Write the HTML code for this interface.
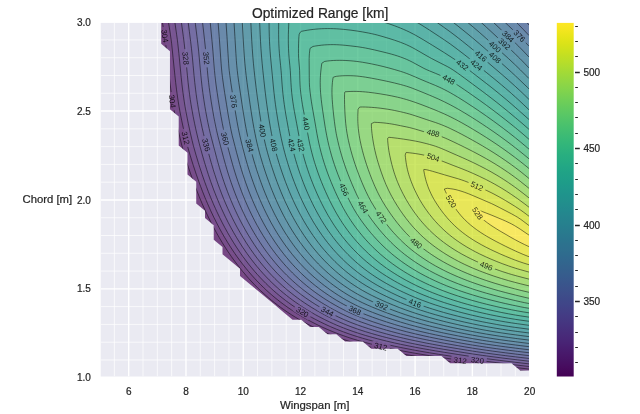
<!DOCTYPE html>
<html><head><meta charset="utf-8"><title>Optimized Range [km]</title>
<style>html,body{margin:0;padding:0;background:#fff}svg{display:block}text{font-family:"Liberation Sans",sans-serif;fill:#262626;stroke:#262626;stroke-width:0.22px}.cl text{stroke:none}</style></head>
<body>
<svg width="640" height="414" viewBox="0 0 640 414">
<rect width="640" height="414" fill="#ffffff"/>
<rect x="100.7" y="22.9" width="428.40" height="353.60" fill="#eaeaf2"/>
<defs><clipPath id="ax"><rect x="100.7" y="22.9" width="428.40" height="353.60"/></clipPath>
<clipPath id="bd" clip-path="url(#ax)"><path d="M161.20 0.00L161.20 43.87L169.96 51.13L169.96 109.18L178.71 116.44L178.71 145.47L187.47 152.73L187.47 174.50L196.23 181.75L196.23 203.52L204.98 210.78L204.98 218.04L213.74 225.30L213.74 239.81L222.50 247.07L222.50 254.32L231.25 261.58L240.01 268.84L240.01 276.09L248.77 283.35L257.53 290.61L266.28 297.87L275.04 305.12L283.80 312.38L292.55 319.64L301.31 319.64L310.07 326.89L318.82 326.89L327.58 334.15L336.34 334.15L345.10 341.41L362.61 341.41L371.37 348.67L397.64 348.67L406.39 355.92L441.42 355.92L450.18 363.18L511.48 363.18L520.24 370.44L640.00 370.44L640.00 0.00Z"/></clipPath>
<linearGradient id="cb" x1="0" y1="0" x2="0" y2="1"><stop offset="0.0000" stop-color="#fde725"/><stop offset="0.0156" stop-color="#f6e620"/><stop offset="0.0312" stop-color="#ece51b"/><stop offset="0.0469" stop-color="#e2e418"/><stop offset="0.0625" stop-color="#d8e219"/><stop offset="0.0781" stop-color="#cde11d"/><stop offset="0.0938" stop-color="#c2df23"/><stop offset="0.1094" stop-color="#b8de29"/><stop offset="0.1250" stop-color="#addc30"/><stop offset="0.1406" stop-color="#a2da37"/><stop offset="0.1562" stop-color="#98d83e"/><stop offset="0.1719" stop-color="#8ed645"/><stop offset="0.1875" stop-color="#84d44b"/><stop offset="0.2031" stop-color="#7ad151"/><stop offset="0.2188" stop-color="#70cf57"/><stop offset="0.2344" stop-color="#67cc5c"/><stop offset="0.2500" stop-color="#5ec962"/><stop offset="0.2656" stop-color="#56c667"/><stop offset="0.2812" stop-color="#4ec36b"/><stop offset="0.2969" stop-color="#46c06f"/><stop offset="0.3125" stop-color="#3fbc73"/><stop offset="0.3281" stop-color="#38b977"/><stop offset="0.3438" stop-color="#32b67a"/><stop offset="0.3594" stop-color="#2db27d"/><stop offset="0.3750" stop-color="#28ae80"/><stop offset="0.3906" stop-color="#25ab82"/><stop offset="0.4062" stop-color="#22a785"/><stop offset="0.4219" stop-color="#20a386"/><stop offset="0.4375" stop-color="#1fa088"/><stop offset="0.4531" stop-color="#1e9c89"/><stop offset="0.4688" stop-color="#1f988b"/><stop offset="0.4844" stop-color="#1f948c"/><stop offset="0.5000" stop-color="#21918c"/><stop offset="0.5156" stop-color="#228d8d"/><stop offset="0.5312" stop-color="#23898e"/><stop offset="0.5469" stop-color="#25858e"/><stop offset="0.5625" stop-color="#26828e"/><stop offset="0.5781" stop-color="#277e8e"/><stop offset="0.5938" stop-color="#297a8e"/><stop offset="0.6094" stop-color="#2a768e"/><stop offset="0.6250" stop-color="#2c728e"/><stop offset="0.6406" stop-color="#2e6f8e"/><stop offset="0.6562" stop-color="#2f6b8e"/><stop offset="0.6719" stop-color="#31678e"/><stop offset="0.6875" stop-color="#33638d"/><stop offset="0.7031" stop-color="#355f8d"/><stop offset="0.7188" stop-color="#375b8d"/><stop offset="0.7344" stop-color="#39568c"/><stop offset="0.7500" stop-color="#3b528b"/><stop offset="0.7656" stop-color="#3d4e8a"/><stop offset="0.7812" stop-color="#3e4989"/><stop offset="0.7969" stop-color="#404588"/><stop offset="0.8125" stop-color="#424086"/><stop offset="0.8281" stop-color="#443b84"/><stop offset="0.8438" stop-color="#453781"/><stop offset="0.8594" stop-color="#46327e"/><stop offset="0.8750" stop-color="#472d7b"/><stop offset="0.8906" stop-color="#482878"/><stop offset="0.9062" stop-color="#482374"/><stop offset="0.9219" stop-color="#481d6f"/><stop offset="0.9375" stop-color="#48186a"/><stop offset="0.9531" stop-color="#471365"/><stop offset="0.9688" stop-color="#470d60"/><stop offset="0.9844" stop-color="#46075a"/><stop offset="1.0000" stop-color="#440154"/></linearGradient>
<mask id="lm" maskUnits="userSpaceOnUse" x="0" y="0" width="640" height="414"><rect width="640" height="414" fill="#fff"/><rect x="-9.18" y="-4" width="18.35" height="8" fill="#000" transform="translate(165.00 36.00) rotate(81.6)"/><rect x="-9.18" y="-4" width="18.35" height="8" fill="#000" transform="translate(172.50 101.30) rotate(80.9)"/><rect x="-9.18" y="-4" width="18.35" height="8" fill="#000" transform="translate(185.70 137.90) rotate(76.8)"/><rect x="-9.18" y="-4" width="18.35" height="8" fill="#000" transform="translate(380.80 346.40) rotate(12.9)"/><rect x="-9.18" y="-4" width="18.35" height="8" fill="#000" transform="translate(460.20 360.30) rotate(8.4)"/><rect x="-9.18" y="-4" width="18.35" height="8" fill="#000" transform="translate(302.50 312.00) rotate(31.4)"/><rect x="-9.18" y="-4" width="18.35" height="8" fill="#000" transform="translate(477.40 360.10) rotate(8.0)"/><rect x="-9.18" y="-4" width="18.35" height="8" fill="#000" transform="translate(185.80 58.20) rotate(84.4)"/><rect x="-9.18" y="-4" width="18.35" height="8" fill="#000" transform="translate(206.40 144.80) rotate(75.1)"/><rect x="-9.18" y="-4" width="18.35" height="8" fill="#000" transform="translate(327.40 311.40) rotate(28.5)"/><rect x="-9.18" y="-4" width="18.35" height="8" fill="#000" transform="translate(206.50 58.20) rotate(85.1)"/><rect x="-9.18" y="-4" width="18.35" height="8" fill="#000" transform="translate(225.20 138.60) rotate(75.8)"/><rect x="-9.18" y="-4" width="18.35" height="8" fill="#000" transform="translate(355.00 310.20) rotate(24.8)"/><rect x="-9.18" y="-4" width="18.35" height="8" fill="#000" transform="translate(233.80 101.30) rotate(81.4)"/><rect x="-9.18" y="-4" width="18.35" height="8" fill="#000" transform="translate(519.50 35.90) rotate(45.0)"/><rect x="-9.18" y="-4" width="18.35" height="8" fill="#000" transform="translate(249.70 145.50) rotate(76.2)"/><rect x="-9.18" y="-4" width="18.35" height="8" fill="#000" transform="translate(508.20 36.40) rotate(43.1)"/><rect x="-9.18" y="-4" width="18.35" height="8" fill="#000" transform="translate(381.50 305.50) rotate(22.9)"/><rect x="-9.18" y="-4" width="18.35" height="8" fill="#000" transform="translate(504.50 43.90) rotate(42.7)"/><rect x="-9.18" y="-4" width="18.35" height="8" fill="#000" transform="translate(262.50 130.50) rotate(79.5)"/><rect x="-9.18" y="-4" width="18.35" height="8" fill="#000" transform="translate(495.10 46.70) rotate(42.2)"/><rect x="-9.18" y="-4" width="18.35" height="8" fill="#000" transform="translate(273.80 145.00) rotate(76.4)"/><rect x="-9.18" y="-4" width="18.35" height="8" fill="#000" transform="translate(495.00 57.50) rotate(41.9)"/><rect x="-9.18" y="-4" width="18.35" height="8" fill="#000" transform="translate(415.00 303.00) rotate(21.0)"/><rect x="-9.18" y="-4" width="18.35" height="8" fill="#000" transform="translate(481.00 56.00) rotate(40.3)"/><rect x="-9.18" y="-4" width="18.35" height="8" fill="#000" transform="translate(291.80 145.00) rotate(77.0)"/><rect x="-9.18" y="-4" width="18.35" height="8" fill="#000" transform="translate(476.50 65.00) rotate(39.3)"/><rect x="-9.18" y="-4" width="18.35" height="8" fill="#000" transform="translate(300.80 145.00) rotate(77.3)"/><rect x="-9.18" y="-4" width="18.35" height="8" fill="#000" transform="translate(462.50 65.00) rotate(37.0)"/><rect x="-9.18" y="-4" width="18.35" height="8" fill="#000" transform="translate(306.30 123.50) rotate(79.8)"/><rect x="-9.18" y="-4" width="18.35" height="8" fill="#000" transform="translate(448.80 79.50) rotate(29.0)"/><rect x="-9.18" y="-4" width="18.35" height="8" fill="#000" transform="translate(344.30 189.50) rotate(66.1)"/><rect x="-9.18" y="-4" width="18.35" height="8" fill="#000" transform="translate(363.00 207.00) rotate(59.4)"/><rect x="-9.18" y="-4" width="18.35" height="8" fill="#000" transform="translate(381.30 217.00) rotate(54.2)"/><rect x="-9.18" y="-4" width="18.35" height="8" fill="#000" transform="translate(416.30 243.00) rotate(41.0)"/><rect x="-9.18" y="-4" width="18.35" height="8" fill="#000" transform="translate(433.20 133.00) rotate(14.6)"/><rect x="-9.18" y="-4" width="18.35" height="8" fill="#000" transform="translate(486.40 265.70) rotate(22.1)"/><rect x="-9.18" y="-4" width="18.35" height="8" fill="#000" transform="translate(433.20 157.30) rotate(18.4)"/><rect x="-9.18" y="-4" width="18.35" height="8" fill="#000" transform="translate(477.00 186.10) rotate(23.8)"/><rect x="-9.18" y="-4" width="18.35" height="8" fill="#000" transform="translate(451.30 201.30) rotate(58.8)"/><rect x="-9.18" y="-4" width="18.35" height="8" fill="#000" transform="translate(477.70 213.30) rotate(55.0)"/></mask>
</defs>
<g clip-path="url(#ax)"><path d="M100.05 22.9V376.5M114.37 22.9V376.5M143.01 22.9V376.5M157.33 22.9V376.5M171.65 22.9V376.5M200.29 22.9V376.5M214.61 22.9V376.5M228.93 22.9V376.5M257.57 22.9V376.5M271.89 22.9V376.5M286.21 22.9V376.5M314.85 22.9V376.5M329.17 22.9V376.5M343.49 22.9V376.5M372.13 22.9V376.5M386.45 22.9V376.5M400.77 22.9V376.5M429.41 22.9V376.5M443.73 22.9V376.5M458.05 22.9V376.5M486.69 22.9V376.5M501.01 22.9V376.5M515.33 22.9V376.5M100.7 359.97H529.1M100.7 342.19H529.1M100.7 324.41H529.1M100.7 306.63H529.1M100.7 271.07H529.1M100.7 253.29H529.1M100.7 235.51H529.1M100.7 217.73H529.1M100.7 182.17H529.1M100.7 164.39H529.1M100.7 146.61H529.1M100.7 128.83H529.1M100.7 93.27H529.1M100.7 75.49H529.1M100.7 57.71H529.1M100.7 39.93H529.1" stroke="#fff" stroke-width="0.7" fill="none"/>
<path d="M128.69 22.9V376.5M185.97 22.9V376.5M243.25 22.9V376.5M300.53 22.9V376.5M357.81 22.9V376.5M415.09 22.9V376.5M472.37 22.9V376.5M529.65 22.9V376.5M100.7 288.85H529.1M100.7 199.95H529.1M100.7 111.05H529.1" stroke="#fff" stroke-width="1.4" fill="none"/></g>
<g clip-path="url(#bd)">
<g opacity="0.7" stroke="none">
<path fill="#440154" d="M102.82 22.10L528.99 22.10L528.99 377.69L99.90 377.69L99.90 22.10L102.82 22.10L102.82 22.10"/>
<path fill="#460b5e" d="M164.12 22.10L528.99 22.10L528.99 371.64L505.64 368.90L491.05 367.12L479.13 365.60L470.61 364.44L450.18 361.53L438.50 359.83L426.83 358.06L418.07 356.65L409.31 355.17L400.05 353.50L391.80 351.91L385.96 350.72L380.12 349.46L374.29 348.13L368.45 346.70L362.61 345.19L356.77 343.57L350.93 341.84L348.01 340.92L342.16 338.99L336.34 336.91L333.42 335.81L329.21 334.15L324.66 332.26L321.74 330.98L318.07 329.31L312.99 326.88L307.15 323.89L303.76 322.06L298.39 319.00L295.41 317.22L291.53 314.80L287.82 312.38L283.80 309.63L280.87 307.54L277.62 305.12L274.50 302.70L271.49 300.29L268.60 297.87L265.82 295.45L263.13 293.03L260.45 290.53L257.53 287.69L254.61 284.75L250.99 280.93L248.77 278.51L245.85 275.19L242.54 271.26L240.01 268.13L236.80 264.00L233.23 259.16L231.25 256.39L228.19 251.91L225.03 247.07L222.02 242.23L219.14 237.39L216.39 232.55L213.74 227.69L210.82 222.06L207.65 215.62L204.98 209.93L202.06 203.38L199.07 196.27L196.19 189.01L193.31 181.35L190.39 173.12L188.41 167.24L186.84 162.40L184.55 155.07L183.18 150.31L181.86 145.47L181.26 143.05L178.71 132.32L176.81 123.70L175.78 118.86L174.37 111.60L173.05 104.35L172.27 99.51L171.21 92.25L170.25 84.99L169.67 80.16L168.59 70.48L165.45 41.45L164.81 36.61L164.03 31.78L162.79 24.52L162.42 22.10L164.12 22.10L164.12 22.10"/>
<path fill="#48186a" d="M169.96 22.10L528.99 22.10L528.99 369.07L511.48 367.03L493.97 364.91L480.47 363.18L473.53 362.23L461.86 360.54L438.50 357.06L429.75 355.69L418.07 353.75L412.23 352.73L403.30 351.08L394.72 349.39L388.88 348.18L383.04 346.90L377.21 345.54L370.32 343.83L365.53 342.56L359.69 340.93L353.24 338.99L348.01 337.30L345.10 336.31L339.10 334.15L332.89 331.73L327.13 329.31L321.74 326.89L315.91 324.07L311.96 322.06L307.15 319.47L303.19 317.22L298.39 314.35L295.24 312.38L291.53 309.96L287.98 307.54L283.80 304.55L280.88 302.36L277.96 300.09L275.04 297.73L272.12 295.28L269.20 292.73L266.28 290.08L263.36 287.32L260.45 284.45L257.01 280.93L254.61 278.37L251.69 275.12L248.36 271.26L245.85 268.23L242.50 264.00L240.01 260.72L237.09 256.73L233.74 251.91L230.54 247.07L227.50 242.23L224.59 237.39L221.81 232.55L219.16 227.72L216.62 222.88L213.74 217.11L210.74 210.78L207.50 203.53L204.98 197.55L202.53 191.43L200.68 186.59L198.88 181.75L196.23 174.22L193.31 165.45L191.59 159.98L190.10 155.15L188.01 147.89L187.35 145.47L186.20 140.63L183.43 128.54L181.63 120.17L180.42 114.02L179.09 106.77L178.29 101.93L177.56 97.09L176.56 89.83L175.68 82.58L174.64 72.90L171.66 43.87L171.07 39.03L170.39 34.20L168.48 22.10L169.96 22.10L169.96 22.10"/>
<path fill="#482475" d="M175.79 22.10L528.99 22.10L528.99 366.49L514.40 364.79L496.88 362.67L485.21 361.18L476.45 359.99L464.77 358.28L438.50 354.25L429.75 352.82L419.68 351.08L412.23 349.72L403.48 348.03L394.72 346.23L385.96 344.29L380.12 342.90L374.16 341.41L368.45 339.88L362.61 338.22L356.77 336.46L350.93 334.56L348.01 333.55L342.18 331.43L336.34 329.14L330.50 326.67L324.66 324.01L320.63 322.06L315.88 319.64L311.40 317.22L307.14 314.80L303.09 312.38L298.39 309.43L295.47 307.52L291.97 305.12L288.58 302.70L285.33 300.29L282.21 297.87L279.21 295.45L276.33 293.03L273.56 290.61L270.89 288.19L268.31 285.77L265.82 283.35L263.36 280.89L260.45 277.84L257.53 274.66L254.53 271.26L251.69 267.89L248.54 264.00L244.84 259.16L242.93 256.58L239.63 251.91L236.39 247.07L233.30 242.23L230.37 237.39L227.57 232.55L224.89 227.71L222.34 222.88L219.58 217.37L216.66 211.24L215.35 208.36L213.22 203.53L210.82 197.84L208.27 191.43L206.44 186.59L204.67 181.75L202.06 174.25L199.77 167.24L198.26 162.40L196.06 155.15L194.00 147.89L193.31 145.33L192.14 140.63L190.39 133.11L188.33 123.70L187.33 118.86L185.95 111.60L185.09 106.77L184.30 101.93L183.58 97.09L182.92 92.25L182.03 84.99L181.24 77.74L180.29 68.06L178.88 53.55L177.83 43.87L177.24 39.03L176.59 34.20L174.85 22.10L175.79 22.10L175.79 22.10"/>
<path fill="#472f7d" d="M181.63 22.10L528.99 22.10L528.99 363.87L514.40 362.17L499.80 360.39L488.13 358.90L479.37 357.70L470.61 356.43L458.94 354.63L444.34 352.32L435.59 350.88L423.91 348.84L418.07 347.76L409.31 346.06L400.56 344.25L394.72 342.97L387.95 341.41L383.04 340.21L377.21 338.71L369.39 336.57L365.53 335.44L359.69 333.65L353.85 331.73L348.01 329.66L345.10 328.56L340.87 326.89L336.34 325.00L333.42 323.71L329.79 322.06L324.66 319.58L318.83 316.56L315.59 314.80L311.35 312.38L307.15 309.86L303.46 307.54L299.77 305.12L295.47 302.16L292.55 300.06L289.61 297.87L286.51 295.45L283.52 293.03L280.65 290.61L277.88 288.19L275.04 285.60L272.12 282.83L269.20 279.95L266.28 276.95L263.23 273.68L260.45 270.55L256.92 266.42L254.61 263.58L251.16 259.16L248.77 255.95L245.85 251.88L242.57 247.07L239.45 242.23L236.48 237.39L233.65 232.55L230.96 227.72L228.34 222.77L225.42 216.95L223.62 213.20L221.39 208.36L219.26 203.53L216.66 197.31L215.29 193.85L213.42 189.01L210.78 181.75L208.32 174.50L206.76 169.66L204.53 162.40L202.06 153.88L200.41 147.89L199.13 143.05L197.92 138.21L196.21 130.96L194.64 123.70L193.17 116.44L191.85 109.18L191.03 104.35L190.28 99.51L189.60 94.67L188.98 89.83L188.14 82.58L187.39 75.32L185.07 51.13L184.26 43.87L183.35 36.61L182.03 26.94L181.38 22.10L181.63 22.10L181.63 22.10"/>
<path fill="#443a83" d="M190.39 22.10L528.99 22.10L528.99 361.19L517.32 359.83L502.72 358.06L491.05 356.56L482.29 355.37L473.53 354.09L464.77 352.72L450.18 350.37L438.50 348.41L426.45 346.25L418.07 344.63L412.23 343.46L402.62 341.41L394.72 339.59L388.88 338.17L382.59 336.57L377.21 335.11L371.37 333.44L365.53 331.68L359.69 329.79L356.77 328.79L350.93 326.70L345.10 324.42L339.26 321.95L333.42 319.28L329.19 317.22L324.49 314.80L318.83 311.69L315.82 309.96L311.81 307.54L307.15 304.59L304.23 302.66L300.79 300.29L297.43 297.87L294.21 295.45L291.11 293.03L288.14 290.61L285.28 288.19L282.54 285.77L279.89 283.35L277.33 280.93L274.86 278.51L272.12 275.71L269.20 272.61L266.28 269.37L263.72 266.42L261.71 264.00L259.74 261.58L257.53 258.76L254.20 254.32L250.76 249.49L248.77 246.56L245.85 242.10L242.93 237.39L240.01 232.45L237.09 227.22L234.17 221.70L232.33 218.04L229.99 213.20L227.75 208.36L225.42 203.05L223.60 198.69L221.66 193.85L219.58 188.37L218.06 184.17L216.38 179.34L214.79 174.50L213.27 169.66L211.11 162.40L209.75 157.56L207.79 150.31L204.61 138.21L203.42 133.37L202.06 127.49L201.25 123.70L200.27 118.86L199.15 112.97L198.48 109.18L197.67 104.35L196.92 99.51L196.23 94.64L195.61 89.83L194.77 82.58L194.03 75.32L193.15 65.64L192.25 55.97L191.49 48.71L190.64 41.45L189.40 31.78L188.17 22.10L190.39 22.10L190.39 22.10"/>
<path fill="#404588" d="M196.23 22.10L528.99 22.10L528.99 358.44L520.24 357.43L505.64 355.67L493.97 354.16L485.21 352.96L476.45 351.68L467.69 350.30L456.02 348.39L443.48 346.25L432.67 344.28L426.83 343.16L418.07 341.40L409.31 339.52L403.48 338.19L396.66 336.57L388.88 334.59L385.96 333.81L378.52 331.73L374.29 330.48L368.45 328.67L362.61 326.76L356.16 324.48L350.93 322.47L348.01 321.29L344.13 319.64L338.81 317.22L333.42 314.58L329.19 312.38L324.66 309.90L320.57 307.54L315.91 304.70L312.76 302.70L309.12 300.28L305.64 297.87L301.31 294.71L298.39 292.48L295.47 290.17L292.55 287.76L289.63 285.26L286.72 282.65L283.80 279.93L280.88 277.10L277.96 274.14L277.51 273.68L275.04 271.06L272.12 267.83L268.81 264.00L266.28 260.93L262.98 256.74L260.45 253.37L257.53 249.31L254.34 244.65L251.22 239.81L248.25 234.97L245.44 230.13L242.77 225.30L240.01 220.02L237.82 215.62L235.53 210.78L233.34 205.94L231.25 201.09L229.29 196.27L227.41 191.43L225.42 186.05L223.91 181.75L222.29 176.92L220.76 172.08L219.30 167.24L217.91 162.40L216.58 157.56L214.68 150.31L212.78 143.05L211.50 138.21L210.28 133.37L209.16 128.54L207.90 122.69L207.14 118.86L205.78 111.60L204.95 106.77L203.81 99.51L202.78 92.25L202.06 86.62L201.34 80.16L200.63 72.90L198.65 51.13L197.85 43.87L196.98 36.61L195.46 24.52L195.19 22.10L196.23 22.10L196.23 22.10"/>
<path fill="#3d4e8a" d="M204.98 22.10L528.99 22.10L528.99 355.63L517.32 354.27L505.64 352.83L492.40 351.08L485.21 350.06L475.91 348.67L464.78 346.85L456.02 345.35L444.34 343.28L434.41 341.41L426.83 339.89L420.99 338.67L411.52 336.57L403.48 334.65L400.56 333.93L391.80 331.64L383.56 329.31L377.21 327.40L374.29 326.48L368.14 324.48L361.25 322.06L356.77 320.37L353.85 319.22L349.09 317.22L345.10 315.42L342.18 314.04L338.79 312.38L333.42 309.56L329.76 307.54L324.66 304.56L321.62 302.70L317.84 300.29L314.23 297.87L310.07 294.94L307.15 292.80L304.23 290.58L301.21 288.19L298.28 285.77L295.46 283.35L292.55 280.76L289.63 278.04L286.72 275.20L283.80 272.25L280.88 269.16L280.57 268.84L277.96 265.94L275.04 262.56L272.23 259.16L270.31 256.74L268.45 254.32L266.28 251.43L263.17 247.07L259.91 242.23L256.82 237.39L253.90 232.55L251.13 227.71L248.50 222.88L245.85 217.74L243.63 213.20L241.38 208.36L239.24 203.53L237.09 198.41L235.28 193.85L233.44 189.01L231.25 182.92L230.04 179.33L228.34 174.09L226.98 169.66L225.42 164.34L223.54 157.56L221.62 150.31L219.07 140.63L217.84 135.79L216.66 130.77L215.65 126.12L214.67 121.28L213.74 116.38L212.47 109.18L211.28 101.93L210.19 94.67L209.20 87.41L208.61 82.58L207.90 76.07L207.38 70.48L206.60 60.80L206.18 55.97L205.48 48.71L204.45 39.03L202.52 22.10L204.98 22.10L204.98 22.10"/>
<path fill="#38588c" d="M210.82 22.10L526.34 22.10L528.99 24.99L528.99 352.73L517.32 351.36L508.56 350.27L496.34 348.66L488.13 347.50L479.37 346.18L470.61 344.75L461.86 343.25L450.18 341.14L438.50 338.90L429.75 337.11L423.91 335.84L415.15 333.85L406.39 331.70L397.37 329.31L388.88 326.88L381.04 324.48L373.66 322.06L366.75 319.64L362.61 318.09L359.69 316.97L353.85 314.56L349.02 312.38L345.10 310.48L342.18 308.99L339.26 307.46L335.05 305.12L330.50 302.46L326.96 300.29L323.20 297.87L318.83 294.90L315.91 292.83L312.89 290.61L309.73 288.19L306.71 285.77L303.80 283.35L301.00 280.93L298.30 278.51L295.47 275.87L292.55 273.02L289.63 270.05L286.72 266.94L286.23 266.42L283.80 263.70L280.88 260.29L277.96 256.74L275.04 252.99L272.42 249.49L270.69 247.07L269.00 244.65L265.77 239.81L262.72 234.97L259.84 230.13L257.11 225.30L254.52 220.46L251.69 214.85L249.74 210.78L247.52 205.94L245.42 201.11L243.42 196.27L241.53 191.43L239.72 186.59L238.02 181.75L236.39 176.92L234.85 172.08L233.39 167.24L231.32 159.98L228.70 150.31L226.08 140.63L225.42 138.06L224.35 133.37L223.33 128.54L222.37 123.70L221.03 116.44L219.58 108.03L218.21 99.51L217.11 92.25L216.09 84.99L215.48 80.16L214.93 75.32L214.46 70.48L213.86 63.22L212.92 51.13L212.06 41.45L210.66 26.94L210.20 22.10L210.82 22.10L210.82 22.10"/>
<path fill="#34618d" d="M219.58 22.10L516.10 22.10L518.50 24.52L523.15 29.27L528.99 35.47L528.99 349.75L519.79 348.67L505.64 346.86L496.88 345.68L488.13 344.40L482.29 343.51L473.53 342.07L467.69 341.06L456.02 338.94L443.83 336.57L435.58 334.85L429.75 333.58L420.99 331.57L411.90 329.31L403.48 327.05L400.56 326.22L394.57 324.48L386.82 322.06L379.55 319.64L372.69 317.22L366.24 314.80L362.61 313.35L359.69 312.16L354.70 309.96L353.85 309.57L349.68 307.54L345.02 305.12L340.65 302.70L336.34 300.18L332.60 297.87L328.86 295.45L324.66 292.58L321.74 290.51L318.62 288.19L315.49 285.77L312.48 283.35L309.60 280.93L306.82 278.51L304.15 276.10L301.31 273.42L298.39 270.54L295.47 267.54L292.55 264.41L292.18 264.00L289.63 261.13L286.72 257.68L283.99 254.32L282.11 251.91L280.28 249.49L277.96 246.30L275.04 242.12L271.93 237.39L268.92 232.55L266.07 227.72L263.36 222.86L260.45 217.30L258.40 213.20L256.11 208.36L253.92 203.53L251.69 198.30L249.88 193.85L248.01 189.01L245.85 183.08L244.55 179.34L242.93 174.45L241.43 169.66L239.98 164.82L238.61 159.98L236.65 152.73L232.29 135.79L231.21 130.95L230.24 126.12L229.34 121.28L228.07 114.02L226.50 104.35L224.58 92.25L223.50 84.99L222.50 77.68L221.94 72.90L221.47 68.06L221.09 63.22L219.21 36.61L218.07 22.10L219.58 22.10L219.58 22.10"/>
<path fill="#306a8e" d="M228.34 22.10L504.76 22.10L508.56 25.72L517.48 34.20L520.24 36.92L524.58 41.45L526.84 43.87L528.99 46.20L528.99 346.66L520.24 345.60L506.40 343.83L499.80 342.91L489.49 341.41L482.29 340.26L473.53 338.78L464.77 337.19L458.94 336.09L449.16 334.15L441.42 332.52L435.59 331.23L426.83 329.20L417.64 326.89L409.31 324.64L406.39 323.80L400.51 322.06L392.88 319.64L385.74 317.22L379.01 314.80L372.60 312.38L366.56 309.96L362.61 308.28L359.69 306.98L355.77 305.12L350.93 302.65L346.63 300.29L342.18 297.68L338.56 295.45L334.83 293.03L330.50 290.06L327.58 287.96L324.64 285.77L321.53 283.35L318.55 280.93L315.68 278.51L312.93 276.10L310.07 273.48L307.15 270.69L304.23 267.78L301.31 264.74L300.61 264.00L298.39 261.57L295.47 258.23L292.55 254.74L292.22 254.32L289.63 251.06L286.61 247.07L283.16 242.23L280.88 238.86L278.35 234.97L276.84 232.55L273.95 227.72L271.21 222.88L268.62 218.04L266.16 213.20L263.84 208.36L261.63 203.53L259.53 198.69L257.53 193.85L255.63 189.01L253.83 184.17L251.69 178.11L250.48 174.50L248.77 169.17L247.45 164.82L245.85 159.31L244.70 155.15L242.80 147.89L241.01 140.63L239.88 135.79L238.82 130.95L237.85 126.12L236.96 121.28L235.73 114.02L234.17 104.19L232.29 92.25L230.81 82.57L229.80 75.32L229.21 70.48L228.97 68.06L228.61 63.22L228.01 53.55L226.97 36.61L226.01 22.10L228.34 22.10L228.34 22.10"/>
<path fill="#2c728e" d="M234.17 22.10L493.13 22.10L502.72 31.24L508.56 36.65L513.70 41.45L516.21 43.87L518.65 46.29L521.04 48.71L523.39 51.13L527.96 55.97L528.99 57.07L528.99 343.45L517.32 342.00L508.56 340.85L499.80 339.63L493.97 338.76L485.21 337.37L479.37 336.39L470.61 334.81L464.77 333.70L454.94 331.73L447.26 330.09L441.42 328.79L432.67 326.74L423.73 324.48L415.15 322.13L412.23 321.28L406.39 319.52L399.21 317.22L392.18 314.80L385.59 312.38L377.21 309.11L371.37 306.72L367.65 305.12L362.38 302.70L357.52 300.29L353.85 298.32L350.93 296.67L348.01 294.96L344.88 293.03L341.14 290.61L337.59 288.19L333.42 285.19L330.50 282.99L327.58 280.70L324.66 278.32L321.74 275.83L318.83 273.23L315.91 270.52L312.99 267.69L310.07 264.74L309.35 264.00L307.08 261.58L304.23 258.41L301.31 255.01L300.73 254.32L298.39 251.45L295.47 247.70L293.20 244.65L291.47 242.23L289.63 239.60L286.56 234.97L283.53 230.13L280.66 225.30L277.96 220.46L275.40 215.62L274.17 213.20L271.80 208.36L269.20 202.74L267.43 198.69L265.40 193.85L263.36 188.75L261.63 184.17L259.88 179.34L258.21 174.50L256.62 169.66L254.61 163.17L253.67 159.98L252.30 155.15L251.00 150.31L249.78 145.47L248.63 140.63L247.56 135.79L246.56 130.96L245.62 126.12L244.75 121.28L243.55 114.02L242.05 104.35L238.80 82.58L237.82 75.32L237.25 70.48L236.77 65.64L236.39 60.80L235.90 53.55L234.90 36.61L234.02 22.10L234.17 22.10L234.17 22.10"/>
<path fill="#297b8e" d="M242.93 22.10L480.79 22.10L485.21 26.12L499.80 39.63L511.48 50.35L514.83 53.55L519.74 58.39L522.13 60.80L524.48 63.22L528.99 67.95L528.99 340.09L517.32 338.63L508.56 337.46L499.80 336.21L491.05 334.84L485.21 333.87L476.45 332.30L470.61 331.20L461.22 329.31L453.10 327.57L447.26 326.25L438.50 324.17L429.75 321.93L421.44 319.64L415.15 317.77L412.23 316.87L405.83 314.80L398.86 312.38L392.35 309.96L386.23 307.54L380.12 305.01L374.29 302.50L368.45 299.81L364.48 297.87L359.69 295.34L355.60 293.03L351.59 290.61L347.81 288.19L344.24 285.77L340.84 283.35L337.60 280.93L334.51 278.51L331.54 276.10L328.70 273.68L325.98 271.26L323.36 268.84L320.83 266.42L318.41 264.00L315.91 261.41L312.99 258.25L310.07 254.94L309.54 254.32L307.15 251.47L304.23 247.82L301.81 244.65L300.03 242.23L298.31 239.81L295.02 234.97L291.93 230.13L289.01 225.30L286.25 220.46L283.64 215.62L280.88 210.18L278.84 205.94L276.61 201.11L274.50 196.27L272.12 190.52L270.58 186.59L268.75 181.75L267.01 176.92L265.35 172.08L263.36 165.98L262.25 162.40L260.45 156.26L259.46 152.73L258.20 147.89L257.02 143.05L255.94 138.21L254.94 133.37L254.01 128.54L252.72 121.28L251.54 114.02L250.09 104.35L248.36 92.25L247.04 82.58L246.14 75.32L245.60 70.48L244.88 63.22L244.29 55.97L243.79 48.71L243.22 39.03L242.28 22.10L242.93 22.10L242.93 22.10"/>
<path fill="#25838e" d="M251.69 22.10L467.32 22.10L473.53 27.33L479.37 32.35L485.21 37.52L508.56 58.61L514.40 64.09L520.24 69.77L528.99 78.56L528.99 336.60L520.24 335.49L510.11 334.15L502.72 333.08L493.97 331.71L485.21 330.20L479.37 329.13L470.61 327.41L464.77 326.19L456.02 324.27L446.62 322.06L438.50 320.00L435.59 319.22L428.36 317.22L423.91 315.90L418.07 314.10L412.23 312.20L405.82 309.96L399.35 307.54L393.28 305.12L387.54 302.70L382.06 300.29L376.80 297.87L371.37 295.22L367.15 293.03L362.61 290.51L358.71 288.19L354.87 285.77L350.93 283.13L347.82 280.93L344.56 278.51L341.46 276.10L338.49 273.68L335.64 271.26L332.92 268.84L330.30 266.42L327.58 263.80L324.66 260.86L321.74 257.78L320.79 256.74L318.62 254.32L315.91 251.16L312.99 247.59L312.57 247.07L310.07 243.84L307.09 239.81L303.72 234.97L300.56 230.13L297.58 225.30L294.77 220.46L292.12 215.62L289.60 210.78L287.22 205.94L284.96 201.11L282.82 196.27L280.77 191.43L278.83 186.59L276.98 181.75L275.04 176.42L273.54 172.08L271.92 167.24L270.39 162.40L268.93 157.56L267.55 152.73L266.26 147.89L265.09 143.05L264.03 138.21L263.06 133.37L262.15 128.54L260.90 121.28L259.75 114.02L258.68 106.77L257.34 97.09L256.09 87.41L254.93 77.74L254.14 70.48L253.42 63.22L252.79 55.97L252.25 48.71L251.80 41.45L251.28 31.78L250.84 22.10L251.69 22.10L251.69 22.10"/>
<path fill="#228b8d" d="M260.45 22.10L452.89 22.10L456.02 24.56L462.05 29.36L468.02 34.20L473.86 39.03L479.57 43.87L485.21 48.76L506.94 68.06L511.48 72.20L517.40 77.74L524.98 84.99L527.47 87.41L528.99 88.91L528.99 332.96L517.32 331.47L508.56 330.25L502.35 329.31L493.97 327.93L488.07 326.89L479.37 325.23L473.53 324.05L464.30 322.06L456.02 320.12L450.18 318.68L444.34 317.18L435.59 314.76L427.59 312.38L423.91 311.21L418.07 309.28L412.23 307.22L406.39 305.03L400.56 302.70L394.72 300.22L388.88 297.59L383.04 294.82L379.40 293.03L374.29 290.37L370.33 288.19L366.19 285.77L362.29 283.35L358.63 280.93L355.15 278.51L351.86 276.10L348.72 273.68L345.73 271.26L342.88 268.84L340.15 266.42L337.52 264.00L335.01 261.58L332.59 259.16L330.26 256.74L327.58 253.84L324.66 250.53L323.77 249.49L321.74 247.05L318.83 243.37L317.94 242.23L315.91 239.51L312.99 235.43L311.03 232.55L309.43 230.13L306.38 225.30L303.52 220.46L300.81 215.62L298.25 210.78L295.82 205.94L293.53 201.11L291.35 196.27L289.28 191.43L287.31 186.59L285.44 181.75L283.66 176.92L281.96 172.08L280.35 167.24L278.81 162.40L277.35 157.56L275.97 152.73L274.67 147.89L273.49 143.05L272.44 138.21L271.48 133.37L270.15 126.12L268.93 118.86L267.82 111.60L266.78 104.35L265.84 97.09L264.96 89.83L263.88 80.16L262.85 70.48L262.15 63.22L261.51 55.97L260.96 48.71L260.52 41.45L260.16 34.20L259.75 24.52L259.67 22.10L260.45 22.10L260.45 22.10"/>
<path fill="#20938c" d="M269.20 22.10L436.57 22.10L444.34 27.61L450.18 31.82L456.02 36.22L462.68 41.45L468.70 46.29L474.62 51.13L479.37 55.07L483.21 58.39L488.77 63.22L502.89 75.32L508.56 80.30L514.40 85.55L520.24 90.94L524.15 94.67L528.99 99.42L528.99 329.20L514.40 327.27L508.56 326.41L502.72 325.49L496.70 324.48L488.13 322.89L482.29 321.75L473.53 319.90L470.61 319.25L461.86 317.20L453.10 314.99L450.18 314.22L443.52 312.38L438.50 310.91L432.67 309.11L426.83 307.22L420.78 305.12L414.26 302.70L408.18 300.29L402.48 297.87L397.11 295.45L391.80 292.92L385.96 289.99L382.53 288.19L377.21 285.24L373.98 283.35L370.05 280.93L366.33 278.51L362.61 275.95L359.48 273.68L356.31 271.26L353.29 268.84L350.41 266.42L347.66 264.00L345.02 261.58L342.18 258.85L339.26 255.91L336.34 252.82L335.49 251.90L333.33 249.49L330.50 246.18L327.58 242.59L327.30 242.23L324.66 238.80L323.62 237.39L321.74 234.80L318.54 230.13L315.42 225.30L312.48 220.46L309.72 215.62L307.11 210.78L304.64 205.94L302.31 201.11L300.09 196.27L297.99 191.43L296.00 186.59L294.11 181.75L292.31 176.92L290.62 172.08L289.01 167.24L287.49 162.40L286.06 157.56L284.72 152.73L283.46 147.89L282.30 143.05L281.22 138.21L280.24 133.37L278.88 126.12L277.63 118.86L276.48 111.60L275.43 104.35L274.80 99.51L273.96 92.25L273.22 84.99L270.47 55.97L270.09 51.13L269.76 46.29L269.51 41.45L269.32 36.61L269.14 29.36L269.04 22.10L269.20 22.10L269.20 22.10"/>
<path fill="#1e9c89" d="M280.88 22.10L416.46 22.10L418.07 23.00L420.99 24.73L424.53 26.94L429.75 30.28L439.41 36.61L444.34 39.90L450.10 43.87L450.18 43.93L456.02 48.25L464.77 54.93L469.10 58.39L473.53 62.03L477.87 65.64L489.91 75.32L493.97 78.62L501.61 84.99L505.64 88.42L511.48 93.51L517.32 98.77L523.29 104.35L528.99 109.75L528.99 325.31L517.32 323.73L511.48 322.87L505.64 321.93L499.80 320.92L492.89 319.64L485.21 318.09L479.37 316.84L470.46 314.80L461.86 312.66L458.94 311.90L451.84 309.96L447.26 308.63L441.42 306.87L435.59 305.00L428.88 302.70L422.29 300.29L418.07 298.64L415.15 297.45L409.31 294.96L403.48 292.30L399.93 290.61L394.72 287.99L390.52 285.77L385.96 283.24L382.00 280.93L377.21 277.97L374.29 276.08L370.77 273.68L367.40 271.26L364.20 268.84L361.16 266.42L358.25 264.00L355.47 261.58L352.82 259.16L350.27 256.74L347.82 254.32L345.10 251.50L342.18 248.32L339.26 244.99L338.96 244.65L336.34 241.47L333.42 237.76L333.13 237.39L330.50 233.83L327.89 230.13L326.26 227.72L324.66 225.27L321.67 220.46L318.83 215.58L316.19 210.78L314.92 208.36L312.47 203.53L310.07 198.49L307.97 193.85L305.89 189.01L303.92 184.17L302.06 179.34L300.31 174.50L298.39 168.87L297.10 164.82L295.47 159.40L294.29 155.15L293.03 150.31L291.87 145.47L290.78 140.63L289.63 135.13L288.35 128.54L286.72 119.62L285.75 114.02L284.97 109.18L284.25 104.35L283.60 99.51L283.04 94.67L282.55 89.83L282.14 84.99L281.45 75.32L281.07 70.48L280.60 65.64L279.86 58.39L279.43 53.55L279.08 48.71L278.84 43.87L278.69 39.03L278.62 34.20L278.63 29.36L278.71 22.10L280.88 22.10L280.88 22.10"/>
<path fill="#20a486" d="M289.63 22.10L383.79 22.10L388.88 23.78L394.72 25.85L397.64 26.96L400.56 28.12L403.52 29.36L406.39 30.63L409.31 32.00L413.59 34.20L415.15 35.03L418.07 36.68L423.91 40.12L432.67 45.45L444.34 52.68L456.02 60.27L460.17 63.22L463.40 65.64L467.69 68.97L473.53 73.53L491.05 87.12L499.80 94.18L506.19 99.51L511.84 104.35L517.34 109.18L528.99 119.51L528.99 321.28L520.24 320.07L514.40 319.18L508.56 318.22L502.72 317.18L496.88 316.06L490.65 314.80L482.29 312.96L476.45 311.60L469.82 309.96L461.86 307.85L458.94 307.03L452.37 305.12L447.26 303.54L444.34 302.61L437.44 300.29L432.67 298.57L429.75 297.48L423.91 295.19L418.07 292.74L412.23 290.12L408.16 288.19L403.32 285.77L397.64 282.75L394.38 280.93L390.24 278.51L385.96 275.88L382.55 273.68L378.99 271.26L375.60 268.84L372.38 266.42L369.30 264.00L366.37 261.58L363.57 259.16L360.89 256.74L358.32 254.32L355.86 251.91L353.50 249.49L350.93 246.75L348.01 243.47L346.94 242.23L344.91 239.81L342.18 236.39L341.08 234.97L339.26 232.54L336.34 228.45L334.20 225.30L332.63 222.88L330.50 219.46L328.21 215.62L326.84 213.20L324.20 208.36L321.71 203.53L319.36 198.69L317.14 193.85L315.02 189.01L312.99 184.08L311.14 179.34L309.35 174.50L307.68 169.66L306.12 164.82L304.66 159.98L303.32 155.15L302.08 150.31L300.94 145.47L299.90 140.63L298.94 135.79L296.69 123.70L294.43 111.60L293.60 106.77L292.86 101.93L292.21 97.09L291.67 92.25L291.25 87.41L290.94 82.58L290.29 70.48L289.85 65.64L289.14 58.39L288.76 53.55L288.50 48.71L288.36 43.87L288.33 39.03L288.39 34.20L288.54 29.36L288.85 22.10L289.63 22.10L289.63 22.10"/>
<path fill="#26ad81" d="M315.91 29.13L318.83 28.89L321.74 28.72L324.66 28.62L327.58 28.58L330.50 28.60L333.42 28.68L336.34 28.81L339.26 29.00L343.51 29.36L345.10 29.51L350.93 30.18L356.77 30.99L362.61 31.94L368.45 33.03L371.37 33.63L374.29 34.29L377.21 35.02L383.04 36.66L388.88 38.41L394.72 40.27L398.13 41.45L400.56 42.33L404.45 43.87L406.39 44.69L409.79 46.29L412.23 47.54L415.15 49.12L420.99 52.47L427.00 55.97L431.35 58.39L435.96 60.80L447.26 66.53L450.18 68.15L453.82 70.48L457.32 72.90L460.70 75.32L464.77 78.29L482.29 91.27L491.05 97.93L496.88 102.49L502.72 107.16L508.56 111.93L517.32 119.25L523.15 124.22L528.06 128.54L528.99 129.37L528.99 317.13L520.24 315.83L513.95 314.80L508.56 313.82L501.09 312.38L493.97 310.88L488.13 309.58L479.60 307.54L473.53 305.98L467.69 304.40L461.74 302.70L453.84 300.29L450.18 299.09L444.34 297.10L438.50 294.99L432.67 292.74L426.83 290.33L420.99 287.75L416.75 285.77L411.86 283.35L406.39 280.47L402.87 278.51L397.64 275.44L394.72 273.64L391.02 271.26L387.45 268.84L384.05 266.42L380.12 263.47L377.21 261.17L374.29 258.76L371.37 256.23L368.45 253.58L365.53 250.81L362.61 247.90L361.80 247.07L359.51 244.65L356.77 241.62L353.85 238.23L353.15 237.39L350.93 234.66L348.01 230.88L347.46 230.13L345.10 226.86L344.01 225.30L342.18 222.58L340.80 220.46L339.26 218.00L336.40 213.20L335.04 210.78L332.44 205.94L329.98 201.11L327.58 196.10L325.46 191.43L323.37 186.59L321.38 181.75L319.51 176.92L317.75 172.08L315.91 166.65L314.57 162.40L312.99 157.00L311.84 152.73L310.65 147.89L309.57 143.05L308.59 138.21L307.70 133.37L305.57 121.28L303.23 109.18L302.38 104.35L301.61 99.51L300.95 94.67L300.43 89.83L300.23 87.41L300.07 84.99L299.87 80.16L299.64 70.48L299.48 68.06L298.65 58.39L298.54 55.97L298.48 53.55L298.47 48.71L298.57 43.87L298.76 39.03L298.91 36.61L299.19 34.20L300.63 31.78L301.31 31.37L304.23 30.78L307.15 30.26L310.07 29.81L313.73 29.36L315.91 29.13L315.91 29.13"/>
<path fill="#31b57b" d="M315.91 45.94L318.83 45.52L321.74 45.17L324.66 44.91L327.58 44.74L330.50 44.65L333.42 44.64L336.34 44.71L339.26 44.85L342.18 45.06L345.10 45.31L350.93 45.94L356.77 46.64L359.69 47.06L362.61 47.52L365.53 48.04L368.87 48.71L374.29 49.89L383.04 51.97L388.88 53.44L391.80 54.24L394.72 55.09L397.64 56.01L400.56 57.00L404.23 58.39L406.39 59.27L409.71 60.80L412.23 62.07L418.07 65.22L420.99 66.82L423.91 68.39L426.83 69.78L429.75 71.01L435.59 73.38L440.14 75.32L441.42 75.88L445.26 77.74L447.26 78.77L450.18 80.42L453.70 82.58L457.45 84.99L461.08 87.41L464.65 89.83L467.69 91.93L479.37 100.15L485.21 104.37L491.71 109.18L496.88 113.09L505.64 119.89L513.43 126.12L517.32 129.29L523.15 134.21L528.99 139.32L528.99 312.82L523.15 311.90L517.32 310.88L511.48 309.78L502.72 307.97L496.88 306.68L490.20 305.12L482.29 303.14L479.37 302.37L471.81 300.29L467.69 299.07L461.86 297.28L456.02 295.39L449.23 293.03L442.76 290.61L438.50 288.92L435.59 287.72L429.75 285.18L425.78 283.35L420.80 280.93L415.15 277.99L411.69 276.10L407.50 273.68L403.48 271.22L399.76 268.84L396.17 266.42L392.75 264.00L388.88 261.11L385.96 258.82L383.04 256.42L380.12 253.91L377.21 251.28L374.29 248.52L371.37 245.63L370.40 244.65L368.10 242.23L365.53 239.42L362.61 236.06L361.69 234.97L359.69 232.55L356.77 228.81L355.94 227.71L353.85 224.87L350.93 220.66L350.80 220.46L348.02 216.13L347.69 215.62L345.10 211.25L343.48 208.36L342.17 205.94L339.69 201.11L337.35 196.27L335.13 191.43L333.00 186.59L330.97 181.75L329.05 176.92L327.24 172.08L325.55 167.24L323.97 162.40L322.50 157.56L321.16 152.73L319.93 147.89L318.81 143.05L317.81 138.21L316.89 133.37L315.63 126.12L314.38 118.86L312.24 106.77L311.45 101.93L310.74 97.09L310.07 91.86L309.62 87.41L309.45 84.99L309.36 82.58L309.28 77.74L309.15 60.80L309.18 58.39L309.25 55.97L309.42 53.55L309.97 48.71L310.07 48.32L312.99 46.44L315.91 45.94L315.91 45.94"/>
<path fill="#3fbc73" d="M330.50 60.69L333.42 60.48L336.34 60.36L339.26 60.33L342.18 60.36L345.10 60.46L348.01 60.63L350.93 60.84L353.85 61.12L356.77 61.45L359.69 61.83L362.61 62.27L368.03 63.22L371.37 63.87L377.21 65.11L383.04 66.47L388.88 67.97L394.72 69.62L400.56 71.35L403.48 72.30L406.39 73.35L409.31 74.47L415.15 76.92L420.99 79.47L426.83 81.91L434.32 84.99L435.59 85.53L439.82 87.41L441.42 88.16L444.82 89.83L447.26 91.10L450.18 92.69L453.63 94.67L457.67 97.09L458.94 97.85L464.77 101.52L473.53 107.25L479.96 111.60L485.21 115.24L493.68 121.28L496.99 123.70L503.49 128.54L508.56 132.41L514.40 137.00L520.24 141.75L527.52 147.89L528.99 149.14L528.99 308.30L524.48 307.54L520.24 306.73L512.40 305.12L505.64 303.62L499.80 302.26L491.05 300.10L482.68 297.87L479.37 296.93L473.53 295.21L466.56 293.03L461.86 291.46L458.94 290.45L452.72 288.19L446.52 285.77L440.72 283.35L435.30 280.93L429.75 278.28L425.43 276.10L420.91 273.68L416.66 271.26L412.23 268.59L408.80 266.42L405.18 264.00L401.73 261.58L398.46 259.16L394.72 256.25L391.80 253.86L388.88 251.35L385.96 248.72L383.04 245.96L380.12 243.06L379.30 242.23L377.00 239.81L374.29 236.84L371.37 233.49L370.57 232.55L368.45 229.98L365.53 226.28L362.97 222.88L361.23 220.46L359.54 218.04L356.77 213.81L356.39 213.20L353.85 208.96L353.51 208.36L352.16 205.94L350.87 203.52L348.43 198.69L346.15 193.85L343.98 189.01L341.88 184.17L339.86 179.34L337.96 174.50L336.16 169.66L334.48 164.82L332.90 159.98L331.45 155.15L330.10 150.31L328.87 145.47L327.75 140.63L326.75 135.79L325.85 130.96L325.03 126.12L323.91 118.86L322.48 109.18L321.74 103.80L321.23 99.51L320.75 94.67L320.56 92.25L320.41 89.83L320.30 87.41L320.24 84.99L320.22 82.58L320.25 80.16L320.34 77.74L320.48 75.32L320.67 72.90L321.17 68.06L321.74 63.55L321.83 63.22L324.66 61.42L327.58 60.99L330.50 60.69L330.50 60.69"/>
<path fill="#4ec36b" d="M333.42 77.15L336.34 76.32L339.26 76.00L342.18 75.80L345.10 75.69L348.01 75.66L350.93 75.71L353.85 75.83L356.77 76.04L359.69 76.35L362.61 76.73L365.53 77.17L371.37 78.17L377.21 79.28L383.04 80.44L388.88 81.70L394.72 83.05L400.56 84.53L403.48 85.33L406.39 86.18L410.14 87.41L412.23 88.18L418.07 90.48L428.32 94.67L432.67 96.50L438.50 99.07L444.34 101.82L450.18 104.78L453.86 106.77L458.19 109.18L458.94 109.61L464.77 113.04L470.61 116.61L476.45 120.31L482.29 124.12L488.88 128.54L493.97 132.03L499.80 136.15L505.95 140.63L511.48 144.78L518.55 150.31L523.15 154.00L528.99 158.82L528.99 303.51L524.74 302.70L520.24 301.72L513.90 300.29L502.72 297.58L493.97 295.31L485.78 293.03L482.29 291.99L476.45 290.20L470.30 288.19L463.40 285.77L458.94 284.10L456.02 282.97L450.18 280.59L444.34 278.03L440.17 276.10L435.25 273.68L429.75 270.77L426.27 268.84L422.15 266.42L418.07 263.88L414.56 261.58L411.06 259.16L407.74 256.74L404.58 254.32L401.58 251.90L398.72 249.49L395.99 247.07L393.39 244.65L390.89 242.23L388.50 239.81L385.96 237.13L383.04 233.90L381.87 232.55L379.81 230.13L377.21 226.93L374.04 222.88L371.37 219.29L368.74 215.62L367.10 213.20L365.51 210.78L364.00 208.36L362.56 205.94L361.21 203.53L359.69 200.66L357.50 196.27L356.35 193.85L353.85 188.33L352.06 184.17L350.06 179.34L348.01 174.18L346.32 169.66L344.61 164.82L343.01 159.98L341.52 155.15L340.14 150.31L338.87 145.47L337.72 140.63L336.67 135.79L336.20 133.37L335.77 130.96L335.03 126.12L334.39 121.28L333.53 114.02L333.03 109.18L332.58 104.35L332.23 99.51L332.10 97.09L332.01 94.67L331.96 92.25L331.98 89.83L332.05 87.41L332.19 84.99L332.40 82.58L332.69 80.16L333.05 77.74L333.42 77.15L333.42 77.15"/>
<path fill="#60ca60" d="M345.10 91.80L348.01 91.58L350.93 91.44L353.85 91.39L356.77 91.42L359.69 91.53L362.61 91.72L365.53 91.96L368.45 92.26L374.29 92.99L380.12 93.85L385.96 94.83L391.80 95.94L397.10 97.09L397.64 97.21L400.56 97.92L403.48 98.69L406.39 99.52L409.31 100.41L413.89 101.93L415.15 102.36L420.99 104.48L426.97 106.77L433.07 109.18L438.50 111.41L444.47 114.02L447.26 115.31L450.18 116.71L454.42 118.86L456.02 119.68L461.86 122.85L467.69 126.17L473.53 129.61L479.70 133.37L485.21 136.82L491.12 140.63L496.88 144.47L502.72 148.49L508.65 152.73L514.40 156.98L520.24 161.47L526.07 166.13L528.99 168.56L528.99 298.26L526.07 297.64L516.93 295.45L505.64 292.58L498.30 290.61L491.05 288.53L488.13 287.65L482.12 285.77L474.92 283.35L470.61 281.81L467.69 280.73L461.86 278.45L456.02 276.01L450.18 273.40L445.70 271.26L440.93 268.84L435.59 265.94L432.21 264.00L428.21 261.58L423.91 258.82L420.84 256.74L417.45 254.32L414.23 251.91L411.17 249.49L408.28 247.07L405.52 244.65L402.90 242.23L400.39 239.81L397.64 237.01L394.72 233.89L393.51 232.55L391.39 230.13L388.88 227.13L385.96 223.46L385.51 222.88L383.04 219.59L380.12 215.57L377.21 211.37L376.81 210.78L374.29 206.89L373.69 205.94L371.37 202.01L370.85 201.11L368.45 196.61L368.27 196.27L365.92 191.43L364.81 189.01L362.61 184.00L360.68 179.34L358.78 174.50L356.77 169.09L355.28 164.82L353.68 159.98L352.20 155.15L350.82 150.31L349.58 145.47L348.46 140.63L347.96 138.21L347.07 133.37L346.68 130.96L346.33 128.54L345.76 123.70L345.33 118.86L345.01 114.02L344.77 109.18L344.59 104.35L344.50 99.51L344.51 97.09L344.56 94.67L344.72 92.25L345.10 91.80L345.10 91.80"/>
<path fill="#75d054" d="M359.69 107.05L362.61 106.99L365.53 107.04L368.45 107.16L371.37 107.33L374.29 107.56L377.21 107.84L380.12 108.16L383.04 108.54L387.35 109.18L388.88 109.43L391.80 109.95L394.72 110.51L399.84 111.60L400.56 111.76L403.48 112.45L406.39 113.18L409.52 114.02L412.23 114.83L418.07 116.73L426.83 119.69L435.59 122.57L438.75 123.70L441.42 124.71L444.84 126.12L447.26 127.17L450.25 128.54L455.22 130.96L456.02 131.35L461.86 134.37L467.69 137.51L476.45 142.39L482.29 145.78L488.13 149.28L493.97 152.92L499.80 156.70L505.64 160.65L511.54 164.82L514.83 167.24L518.03 169.66L521.14 172.08L524.15 174.50L527.08 176.92L528.99 178.51L528.99 292.30L521.79 290.61L514.40 288.75L508.56 287.21L502.72 285.60L495.09 283.35L491.05 282.08L485.21 280.16L479.37 278.12L473.53 275.94L467.69 273.61L461.86 271.11L456.02 268.42L451.93 266.42L447.26 263.99L442.90 261.58L438.50 259.00L434.89 256.74L431.21 254.32L427.72 251.91L423.91 249.10L420.99 246.84L418.07 244.45L415.15 241.92L412.23 239.24L409.31 236.40L406.39 233.41L405.59 232.55L403.38 230.13L400.56 226.87L397.64 223.32L397.28 222.88L394.72 219.55L391.83 215.62L390.13 213.20L388.48 210.78L385.96 206.93L385.33 205.94L383.04 202.20L382.40 201.11L380.12 197.04L379.70 196.27L378.45 193.85L377.21 191.35L375.00 186.59L373.94 184.17L371.93 179.34L370.06 174.50L368.28 169.66L366.62 164.82L365.07 159.98L363.64 155.15L362.33 150.31L361.16 145.47L360.13 140.63L359.67 138.21L359.26 135.79L358.90 133.37L358.58 130.96L358.31 128.54L358.10 126.12L357.94 123.70L357.84 121.28L357.80 118.86L357.80 116.44L357.86 114.02L358.08 109.18L359.69 107.05L359.69 107.05"/>
<path fill="#8bd646" d="M371.37 123.65L374.29 122.31L377.21 122.43L380.12 122.61L383.04 122.86L385.96 123.18L389.68 123.70L391.80 124.03L394.72 124.54L400.56 125.71L406.39 126.88L409.31 127.53L413.19 128.54L415.15 129.07L418.07 129.93L423.91 131.72L426.83 132.46L432.67 133.67L435.59 134.48L439.40 135.79L441.42 136.55L445.44 138.21L447.26 139.00L453.10 141.70L460.92 145.47L464.77 147.36L473.53 151.80L479.82 155.15L485.21 158.13L491.05 161.50L496.88 165.04L500.36 167.24L504.06 169.66L507.64 172.08L508.56 172.70L511.48 174.76L514.45 176.92L517.67 179.34L520.79 181.75L526.07 185.96L528.99 188.34L528.99 285.88L520.24 283.73L514.40 282.23L508.56 280.63L501.40 278.51L496.88 277.08L493.89 276.10L486.98 273.68L482.29 271.92L479.37 270.79L473.53 268.40L469.00 266.42L464.77 264.47L461.86 263.05L458.91 261.58L454.36 259.16L450.06 256.74L446.04 254.32L442.24 251.91L438.50 249.39L435.26 247.07L432.05 244.65L429.01 242.23L426.12 239.81L423.39 237.39L420.80 234.97L418.07 232.27L415.15 229.21L413.78 227.72L411.64 225.30L409.31 222.52L406.39 218.85L405.77 218.04L403.48 214.95L402.22 213.20L400.54 210.78L397.64 206.36L397.37 205.94L394.72 201.61L394.42 201.11L391.80 196.48L391.68 196.27L390.41 193.85L388.88 190.82L388.01 189.01L385.96 184.47L385.83 184.17L383.86 179.34L382.94 176.92L381.21 172.08L379.57 167.24L378.06 162.40L377.21 159.48L376.04 155.15L374.89 150.31L374.29 147.52L373.43 143.05L372.65 138.21L372.31 135.79L372.01 133.37L371.76 130.96L371.56 128.54L371.42 126.12L371.37 123.65L371.37 123.65"/>
<path fill="#a2da37" d="M388.88 137.30L391.80 137.59L397.64 138.30L403.48 139.11L409.31 140.03L415.15 141.06L418.07 141.63L420.99 142.27L426.83 143.73L429.75 144.50L433.06 145.47L435.59 146.29L438.50 147.34L441.42 148.49L445.66 150.31L456.68 155.15L462.22 157.56L467.69 160.02L473.53 162.76L479.37 165.63L485.21 168.66L491.05 171.85L496.88 175.24L499.80 177.01L503.48 179.34L507.17 181.75L508.56 182.68L511.48 184.69L514.40 186.77L517.45 189.01L523.15 193.34L528.99 197.92L528.99 279.11L517.32 276.09L511.48 274.44L508.56 273.57L502.72 271.70L499.80 270.71L493.97 268.63L488.13 266.40L482.27 264.00L476.45 261.45L470.61 258.68L466.77 256.74L461.86 254.10L458.03 251.91L454.06 249.49L450.18 246.96L446.83 244.65L443.53 242.23L440.41 239.81L437.46 237.39L434.67 234.97L432.02 232.55L429.51 230.13L426.83 227.40L423.91 224.23L422.71 222.88L420.64 220.46L418.07 217.26L416.80 215.62L415.00 213.20L412.23 209.25L411.63 208.36L409.31 204.79L408.53 203.52L406.39 199.95L405.67 198.69L403.48 194.67L403.04 193.85L401.82 191.43L400.56 188.84L399.52 186.59L397.64 182.21L397.45 181.75L396.50 179.34L395.61 176.92L394.72 174.36L393.99 172.08L392.57 167.24L391.80 164.35L390.74 159.98L389.69 155.15L389.22 152.73L388.81 150.31L388.46 147.89L388.16 145.47L387.91 143.05L387.70 140.63L387.71 138.21L388.88 137.30L388.88 137.30"/>
<path fill="#bade28" d="M406.39 152.49L409.31 152.79L412.23 153.14L415.15 153.53L418.07 153.99L420.99 154.51L424.09 155.15L426.83 155.81L429.75 156.61L432.85 157.56L435.59 158.54L439.34 159.98L453.10 165.39L461.86 168.76L467.69 171.12L473.53 173.64L479.37 176.32L485.55 179.34L490.22 181.75L491.05 182.18L494.68 184.17L498.92 186.59L499.80 187.10L502.96 189.01L506.80 191.43L510.50 193.85L511.48 194.50L517.32 198.53L524.15 203.53L528.99 207.21L528.99 272.08L520.24 269.64L517.32 268.78L511.48 266.93L508.56 265.93L502.72 263.83L496.88 261.57L491.05 259.15L485.21 256.57L479.37 253.79L475.63 251.91L470.61 249.20L466.91 247.07L462.97 244.65L459.29 242.23L456.02 239.94L455.84 239.81L452.60 237.39L449.56 234.97L446.70 232.55L444.00 230.13L441.42 227.68L438.50 224.73L435.59 221.58L434.59 220.46L432.51 218.04L429.75 214.59L428.67 213.20L426.83 210.70L425.19 208.36L423.56 205.94L422.03 203.52L420.56 201.11L419.17 198.69L417.85 196.27L416.60 193.85L415.15 190.86L414.29 189.01L413.23 186.59L412.22 184.17L411.28 181.75L410.38 179.34L409.31 176.21L408.77 174.50L408.08 172.08L407.48 169.66L406.96 167.24L406.39 164.21L406.10 162.40L405.76 159.98L405.46 157.56L405.20 155.15L405.92 152.73L406.39 152.49L406.39 152.49"/>
<path fill="#d2e21b" d="M423.91 169.40L426.83 169.81L429.75 170.54L432.67 171.34L438.50 173.05L444.34 174.79L458.94 179.04L461.86 180.00L464.77 181.04L470.61 183.31L473.53 184.51L479.37 187.07L485.21 189.77L491.05 192.60L493.97 194.08L498.04 196.27L499.80 197.24L505.64 200.62L514.40 205.98L518.06 208.36L520.24 209.81L523.15 211.86L526.07 214.03L528.99 216.27L528.99 264.71L526.07 263.84L523.15 262.90L519.24 261.58L514.40 259.80L511.48 258.67L505.64 256.29L499.80 253.76L493.97 251.09L490.60 249.49L485.21 246.77L481.23 244.65L476.97 242.23L473.53 240.15L472.99 239.81L469.29 237.39L465.84 234.97L462.63 232.55L459.64 230.13L456.85 227.72L454.24 225.30L451.80 222.88L449.51 220.46L447.26 217.93L444.34 214.40L443.39 213.20L441.42 210.62L439.79 208.36L438.11 205.94L435.59 202.03L435.02 201.11L433.60 198.69L432.28 196.27L431.06 193.85L429.75 191.00L428.90 189.01L427.96 186.59L426.83 183.29L426.34 181.75L425.66 179.34L425.05 176.92L424.52 174.50L423.65 169.66L423.91 169.40L423.91 169.40"/>
<path fill="#e7e419" d="M444.34 189.00L447.26 188.29L450.18 188.66L453.10 189.10L456.02 189.70L458.94 190.49L462.01 191.43L464.77 192.37L468.75 193.85L473.53 195.83L488.13 202.11L491.33 203.52L493.97 204.77L499.80 207.72L511.48 213.81L514.74 215.62L517.32 217.12L520.24 218.99L523.15 221.13L528.99 225.55L528.99 256.72L523.15 254.39L522.99 254.32L517.32 251.86L511.48 249.16L505.64 246.33L499.80 243.39L496.88 241.88L493.01 239.81L488.13 237.07L484.60 234.97L480.78 232.55L477.24 230.13L476.45 229.57L473.53 227.39L470.61 225.04L467.69 222.48L464.77 219.69L463.17 218.04L460.98 215.62L458.94 213.17L457.11 210.78L455.37 208.36L453.10 204.90L452.23 203.53L449.30 198.69L447.26 195.07L446.61 193.85L445.41 191.43L444.34 189.00L444.34 189.00"/>
<path fill="#fde725" d="M473.53 208.20L485.21 212.66L491.05 214.94L502.72 219.80L505.64 221.09L509.40 222.88L511.48 223.92L514.40 225.52L517.99 227.72L520.24 229.16L528.99 235.13L528.99 246.64L524.71 244.65L519.84 242.23L514.40 239.33L510.93 237.39L499.80 230.90L496.88 229.13L493.97 227.29L490.93 225.30L487.51 222.88L484.34 220.46L481.44 218.04L478.77 215.62L476.32 213.20L474.09 210.78L473.53 209.13L473.11 208.36L473.53 208.20L473.53 208.20"/>
</g>
<g fill="none" stroke="#000" stroke-opacity="0.66" stroke-width="0.75" stroke-linejoin="round" mask="url(#lm)">
<path d="M528.99 371.64L505.64 368.90L491.05 367.12L479.13 365.60L470.61 364.44L450.18 361.53L438.50 359.83L426.83 358.06L418.07 356.65L409.31 355.17L400.05 353.50L391.80 351.91L385.96 350.72L380.12 349.46L374.29 348.13L368.45 346.70L362.61 345.19L356.77 343.57L350.93 341.84L348.01 340.92L342.16 338.99L336.34 336.91L333.42 335.81L329.21 334.15L324.66 332.26L321.74 330.98L318.07 329.31L312.99 326.88L307.15 323.89L303.76 322.06L298.39 319.00L295.41 317.22L291.53 314.80L287.82 312.38L283.80 309.63L280.87 307.54L277.62 305.12L274.50 302.70L271.49 300.29L268.60 297.87L265.82 295.45L263.13 293.03L260.45 290.53L257.53 287.69L254.61 284.75L250.99 280.93L248.77 278.51L245.85 275.19L242.54 271.26L240.01 268.13L236.80 264.00L233.23 259.16L231.25 256.39L228.19 251.91L225.03 247.07L222.02 242.23L219.14 237.39L216.39 232.55L213.74 227.69L210.82 222.06L207.65 215.62L204.98 209.93L202.06 203.38L199.07 196.27L196.19 189.01L193.31 181.35L190.39 173.12L188.41 167.24L186.84 162.40L184.55 155.07L183.18 150.31L181.86 145.47L181.26 143.05L178.71 132.32L176.81 123.70L175.78 118.86L174.37 111.60L173.05 104.35L172.27 99.51L171.21 92.25L170.25 84.99L169.67 80.16L168.59 70.48L165.45 41.45L164.81 36.61L164.03 31.78L162.79 24.52L162.42 22.10L162.42 22.10"/>
<path d="M528.99 369.07L511.48 367.03L493.97 364.91L480.47 363.18L473.53 362.23L461.86 360.54L438.50 357.06L429.75 355.69L418.07 353.75L412.23 352.73L403.30 351.08L394.72 349.39L388.88 348.18L383.04 346.90L377.21 345.54L370.32 343.83L365.53 342.56L359.69 340.93L353.24 338.99L348.01 337.30L345.10 336.31L339.10 334.15L332.89 331.73L327.13 329.31L321.74 326.89L315.91 324.07L311.96 322.06L307.15 319.47L303.19 317.22L298.39 314.35L295.24 312.38L291.53 309.96L287.98 307.54L283.80 304.55L280.88 302.36L277.96 300.09L275.04 297.73L272.12 295.28L269.20 292.73L266.28 290.08L263.36 287.32L260.45 284.45L257.01 280.93L254.61 278.37L251.69 275.12L248.36 271.26L245.85 268.23L242.50 264.00L240.01 260.72L237.09 256.73L233.74 251.91L230.54 247.07L227.50 242.23L224.59 237.39L221.81 232.55L219.16 227.72L216.62 222.88L213.74 217.11L210.74 210.78L207.50 203.53L204.98 197.55L202.53 191.43L200.68 186.59L198.88 181.75L196.23 174.22L193.31 165.45L191.59 159.98L190.10 155.15L188.01 147.89L187.35 145.47L186.20 140.63L183.43 128.54L181.63 120.17L180.42 114.02L179.09 106.77L178.29 101.93L177.56 97.09L176.56 89.83L175.68 82.58L174.64 72.90L171.66 43.87L171.07 39.03L170.39 34.20L168.48 22.10L168.48 22.10"/>
<path d="M528.99 366.49L514.40 364.79L496.88 362.67L485.21 361.18L476.45 359.99L464.77 358.28L438.50 354.25L429.75 352.82L419.68 351.08L412.23 349.72L403.48 348.03L394.72 346.23L385.96 344.29L380.12 342.90L374.16 341.41L368.45 339.88L362.61 338.22L356.77 336.46L350.93 334.56L348.01 333.55L342.18 331.43L336.34 329.14L330.50 326.67L324.66 324.01L320.63 322.06L315.88 319.64L311.40 317.22L307.14 314.80L303.09 312.38L298.39 309.43L295.47 307.52L291.97 305.12L288.58 302.70L285.33 300.29L282.21 297.87L279.21 295.45L276.33 293.03L273.56 290.61L270.89 288.19L268.31 285.77L265.82 283.35L263.36 280.89L260.45 277.84L257.53 274.66L254.53 271.26L251.69 267.89L248.54 264.00L244.84 259.16L242.93 256.58L239.63 251.91L236.39 247.07L233.30 242.23L230.37 237.39L227.57 232.55L224.89 227.71L222.34 222.88L219.58 217.37L216.66 211.24L215.35 208.36L213.22 203.53L210.82 197.84L208.27 191.43L206.44 186.59L204.67 181.75L202.06 174.25L199.77 167.24L198.26 162.40L196.06 155.15L194.00 147.89L193.31 145.33L192.14 140.63L190.39 133.11L188.33 123.70L187.33 118.86L185.95 111.60L185.09 106.77L184.30 101.93L183.58 97.09L182.92 92.25L182.03 84.99L181.24 77.74L180.29 68.06L178.88 53.55L177.83 43.87L177.24 39.03L176.59 34.20L174.85 22.10L174.85 22.10"/>
<path d="M528.99 363.87L514.40 362.17L499.80 360.39L488.13 358.90L479.37 357.70L470.61 356.43L458.94 354.63L444.34 352.32L435.59 350.88L423.91 348.84L418.07 347.76L409.31 346.06L400.56 344.25L394.72 342.97L387.95 341.41L383.04 340.21L377.21 338.71L369.39 336.57L365.53 335.44L359.69 333.65L353.85 331.73L348.01 329.66L345.10 328.56L340.87 326.89L336.34 325.00L333.42 323.71L329.79 322.06L324.66 319.58L318.83 316.56L315.59 314.80L311.35 312.38L307.15 309.86L303.46 307.54L299.77 305.12L295.47 302.16L292.55 300.06L289.61 297.87L286.51 295.45L283.52 293.03L280.65 290.61L277.88 288.19L275.04 285.60L272.12 282.83L269.20 279.95L266.28 276.95L263.23 273.68L260.45 270.55L256.92 266.42L254.61 263.58L251.16 259.16L248.77 255.95L245.85 251.88L242.57 247.07L239.45 242.23L236.48 237.39L233.65 232.55L230.96 227.72L228.34 222.77L225.42 216.95L223.62 213.20L221.39 208.36L219.26 203.53L216.66 197.31L215.29 193.85L213.42 189.01L210.78 181.75L208.32 174.50L206.76 169.66L204.53 162.40L202.06 153.88L200.41 147.89L199.13 143.05L197.92 138.21L196.21 130.96L194.64 123.70L193.17 116.44L191.85 109.18L191.03 104.35L190.28 99.51L189.60 94.67L188.98 89.83L188.14 82.58L187.39 75.32L185.07 51.13L184.26 43.87L183.35 36.61L182.03 26.94L181.38 22.10L181.38 22.10"/>
<path d="M528.99 361.19L517.32 359.83L502.72 358.06L491.05 356.56L482.29 355.37L473.53 354.09L464.77 352.72L450.18 350.37L438.50 348.41L426.45 346.25L418.07 344.63L412.23 343.46L402.62 341.41L394.72 339.59L388.88 338.17L382.59 336.57L377.21 335.11L371.37 333.44L365.53 331.68L359.69 329.79L356.77 328.79L350.93 326.70L345.10 324.42L339.26 321.95L333.42 319.28L329.19 317.22L324.49 314.80L318.83 311.69L315.82 309.96L311.81 307.54L307.15 304.59L304.23 302.66L300.79 300.29L297.43 297.87L294.21 295.45L291.11 293.03L288.14 290.61L285.28 288.19L282.54 285.77L279.89 283.35L277.33 280.93L274.86 278.51L272.12 275.71L269.20 272.61L266.28 269.37L263.72 266.42L261.71 264.00L259.74 261.58L257.53 258.76L254.20 254.32L250.76 249.49L248.77 246.56L245.85 242.10L242.93 237.39L240.01 232.45L237.09 227.22L234.17 221.70L232.33 218.04L229.99 213.20L227.75 208.36L225.42 203.05L223.60 198.69L221.66 193.85L219.58 188.37L218.06 184.17L216.38 179.34L214.79 174.50L213.27 169.66L211.11 162.40L209.75 157.56L207.79 150.31L204.61 138.21L203.42 133.37L202.06 127.49L201.25 123.70L200.27 118.86L199.15 112.97L198.48 109.18L197.67 104.35L196.92 99.51L196.23 94.64L195.61 89.83L194.77 82.58L194.03 75.32L193.15 65.64L192.25 55.97L191.49 48.71L190.64 41.45L189.40 31.78L188.17 22.10L188.17 22.10"/>
<path d="M528.99 358.44L520.24 357.43L505.64 355.67L493.97 354.16L485.21 352.96L476.45 351.68L467.69 350.30L456.02 348.39L443.48 346.25L432.67 344.28L426.83 343.16L418.07 341.40L409.31 339.52L403.48 338.19L396.66 336.57L388.88 334.59L385.96 333.81L378.52 331.73L374.29 330.48L368.45 328.67L362.61 326.76L356.16 324.48L350.93 322.47L348.01 321.29L344.13 319.64L338.81 317.22L333.42 314.58L329.19 312.38L324.66 309.90L320.57 307.54L315.91 304.70L312.76 302.70L309.12 300.28L305.64 297.87L301.31 294.71L298.39 292.48L295.47 290.17L292.55 287.76L289.63 285.26L286.72 282.65L283.80 279.93L280.88 277.10L277.96 274.14L277.51 273.68L275.04 271.06L272.12 267.83L268.81 264.00L266.28 260.93L262.98 256.74L260.45 253.37L257.53 249.31L254.34 244.65L251.22 239.81L248.25 234.97L245.44 230.13L242.77 225.30L240.01 220.02L237.82 215.62L235.53 210.78L233.34 205.94L231.25 201.09L229.29 196.27L227.41 191.43L225.42 186.05L223.91 181.75L222.29 176.92L220.76 172.08L219.30 167.24L217.91 162.40L216.58 157.56L214.68 150.31L212.78 143.05L211.50 138.21L210.28 133.37L209.16 128.54L207.90 122.69L207.14 118.86L205.78 111.60L204.95 106.77L203.81 99.51L202.78 92.25L202.06 86.62L201.34 80.16L200.63 72.90L198.65 51.13L197.85 43.87L196.98 36.61L195.46 24.52L195.19 22.10L195.19 22.10"/>
<path d="M528.99 355.63L517.32 354.27L505.64 352.83L492.40 351.08L485.21 350.06L475.91 348.67L464.78 346.85L456.02 345.35L444.34 343.28L434.41 341.41L426.83 339.89L420.99 338.67L411.52 336.57L403.48 334.65L400.56 333.93L391.80 331.64L383.56 329.31L377.21 327.40L374.29 326.48L368.14 324.48L361.25 322.06L356.77 320.37L353.85 319.22L349.09 317.22L345.10 315.42L342.18 314.04L338.79 312.38L333.42 309.56L329.76 307.54L324.66 304.56L321.62 302.70L317.84 300.29L314.23 297.87L310.07 294.94L307.15 292.80L304.23 290.58L301.21 288.19L298.28 285.77L295.46 283.35L292.55 280.76L289.63 278.04L286.72 275.20L283.80 272.25L280.88 269.16L280.57 268.84L277.96 265.94L275.04 262.56L272.23 259.16L270.31 256.74L268.45 254.32L266.28 251.43L263.17 247.07L259.91 242.23L256.82 237.39L253.90 232.55L251.13 227.71L248.50 222.88L245.85 217.74L243.63 213.20L241.38 208.36L239.24 203.53L237.09 198.41L235.28 193.85L233.44 189.01L231.25 182.92L230.04 179.33L228.34 174.09L226.98 169.66L225.42 164.34L223.54 157.56L221.62 150.31L219.07 140.63L217.84 135.79L216.66 130.77L215.65 126.12L214.67 121.28L213.74 116.38L212.47 109.18L211.28 101.93L210.19 94.67L209.20 87.41L208.61 82.58L207.90 76.07L207.38 70.48L206.60 60.80L206.18 55.97L205.48 48.71L204.45 39.03L202.52 22.10L202.52 22.10"/>
<path d="M526.34 22.10L528.99 24.99M528.99 352.73L517.32 351.36L508.56 350.27L496.34 348.66L488.13 347.50L479.37 346.18L470.61 344.75L461.86 343.25L450.18 341.14L438.50 338.90L429.75 337.11L423.91 335.84L415.15 333.85L406.39 331.70L397.37 329.31L388.88 326.88L381.04 324.48L373.66 322.06L366.75 319.64L362.61 318.09L359.69 316.97L353.85 314.56L349.02 312.38L345.10 310.48L342.18 308.99L339.26 307.46L335.05 305.12L330.50 302.46L326.96 300.29L323.20 297.87L318.83 294.90L315.91 292.83L312.89 290.61L309.73 288.19L306.71 285.77L303.80 283.35L301.00 280.93L298.30 278.51L295.47 275.87L292.55 273.02L289.63 270.05L286.72 266.94L286.23 266.42L283.80 263.70L280.88 260.29L277.96 256.74L275.04 252.99L272.42 249.49L270.69 247.07L269.00 244.65L265.77 239.81L262.72 234.97L259.84 230.13L257.11 225.30L254.52 220.46L251.69 214.85L249.74 210.78L247.52 205.94L245.42 201.11L243.42 196.27L241.53 191.43L239.72 186.59L238.02 181.75L236.39 176.92L234.85 172.08L233.39 167.24L231.32 159.98L228.70 150.31L226.08 140.63L225.42 138.06L224.35 133.37L223.33 128.54L222.37 123.70L221.03 116.44L219.58 108.03L218.21 99.51L217.11 92.25L216.09 84.99L215.48 80.16L214.93 75.32L214.46 70.48L213.86 63.22L212.92 51.13L212.06 41.45L210.66 26.94L210.20 22.10L210.20 22.10"/>
<path d="M516.10 22.10L518.50 24.52L523.15 29.27L528.99 35.47M528.99 349.75L519.79 348.67L505.64 346.86L496.88 345.68L488.13 344.40L482.29 343.51L473.53 342.07L467.69 341.06L456.02 338.94L443.83 336.57L435.58 334.85L429.75 333.58L420.99 331.57L411.90 329.31L403.48 327.05L400.56 326.22L394.57 324.48L386.82 322.06L379.55 319.64L372.69 317.22L366.24 314.80L362.61 313.35L359.69 312.16L354.70 309.96L353.85 309.57L349.68 307.54L345.02 305.12L340.65 302.70L336.34 300.18L332.60 297.87L328.86 295.45L324.66 292.58L321.74 290.51L318.62 288.19L315.49 285.77L312.48 283.35L309.60 280.93L306.82 278.51L304.15 276.10L301.31 273.42L298.39 270.54L295.47 267.54L292.55 264.41L292.18 264.00L289.63 261.13L286.72 257.68L283.99 254.32L282.11 251.91L280.28 249.49L277.96 246.30L275.04 242.12L271.93 237.39L268.92 232.55L266.07 227.72L263.36 222.86L260.45 217.30L258.40 213.20L256.11 208.36L253.92 203.53L251.69 198.30L249.88 193.85L248.01 189.01L245.85 183.08L244.55 179.34L242.93 174.45L241.43 169.66L239.98 164.82L238.61 159.98L236.65 152.73L232.29 135.79L231.21 130.95L230.24 126.12L229.34 121.28L228.07 114.02L226.50 104.35L224.58 92.25L223.50 84.99L222.50 77.68L221.94 72.90L221.47 68.06L221.09 63.22L219.21 36.61L218.07 22.10L218.07 22.10"/>
<path d="M504.76 22.10L508.56 25.72L517.48 34.20L520.24 36.92L524.58 41.45L526.84 43.87L528.99 46.20M528.99 346.66L520.24 345.60L506.40 343.83L499.80 342.91L489.49 341.41L482.29 340.26L473.53 338.78L464.77 337.19L458.94 336.09L449.16 334.15L441.42 332.52L435.59 331.23L426.83 329.20L417.64 326.89L409.31 324.64L406.39 323.80L400.51 322.06L392.88 319.64L385.74 317.22L379.01 314.80L372.60 312.38L366.56 309.96L362.61 308.28L359.69 306.98L355.77 305.12L350.93 302.65L346.63 300.29L342.18 297.68L338.56 295.45L334.83 293.03L330.50 290.06L327.58 287.96L324.64 285.77L321.53 283.35L318.55 280.93L315.68 278.51L312.93 276.10L310.07 273.48L307.15 270.69L304.23 267.78L301.31 264.74L300.61 264.00L298.39 261.57L295.47 258.23L292.55 254.74L292.22 254.32L289.63 251.06L286.61 247.07L283.16 242.23L280.88 238.86L278.35 234.97L276.84 232.55L273.95 227.72L271.21 222.88L268.62 218.04L266.16 213.20L263.84 208.36L261.63 203.53L259.53 198.69L257.53 193.85L255.63 189.01L253.83 184.17L251.69 178.11L250.48 174.50L248.77 169.17L247.45 164.82L245.85 159.31L244.70 155.15L242.80 147.89L241.01 140.63L239.88 135.79L238.82 130.95L237.85 126.12L236.96 121.28L235.73 114.02L234.17 104.19L232.29 92.25L230.81 82.57L229.80 75.32L229.21 70.48L228.97 68.06L228.61 63.22L228.01 53.55L226.97 36.61L226.01 22.10L226.01 22.10"/>
<path d="M493.13 22.10L502.72 31.24L508.56 36.65L513.70 41.45L516.21 43.87L518.65 46.29L521.04 48.71L523.39 51.13L527.96 55.97L528.99 57.07M528.99 343.45L517.32 342.00L508.56 340.85L499.80 339.63L493.97 338.76L485.21 337.37L479.37 336.39L470.61 334.81L464.77 333.70L454.94 331.73L447.26 330.09L441.42 328.79L432.67 326.74L423.73 324.48L415.15 322.13L412.23 321.28L406.39 319.52L399.21 317.22L392.18 314.80L385.59 312.38L377.21 309.11L371.37 306.72L367.65 305.12L362.38 302.70L357.52 300.29L353.85 298.32L350.93 296.67L348.01 294.96L344.88 293.03L341.14 290.61L337.59 288.19L333.42 285.19L330.50 282.99L327.58 280.70L324.66 278.32L321.74 275.83L318.83 273.23L315.91 270.52L312.99 267.69L310.07 264.74L309.35 264.00L307.08 261.58L304.23 258.41L301.31 255.01L300.73 254.32L298.39 251.45L295.47 247.70L293.20 244.65L291.47 242.23L289.63 239.60L286.56 234.97L283.53 230.13L280.66 225.30L277.96 220.46L275.40 215.62L274.17 213.20L271.80 208.36L269.20 202.74L267.43 198.69L265.40 193.85L263.36 188.75L261.63 184.17L259.88 179.34L258.21 174.50L256.62 169.66L254.61 163.17L253.67 159.98L252.30 155.15L251.00 150.31L249.78 145.47L248.63 140.63L247.56 135.79L246.56 130.96L245.62 126.12L244.75 121.28L243.55 114.02L242.05 104.35L238.80 82.58L237.82 75.32L237.25 70.48L236.77 65.64L236.39 60.80L235.90 53.55L234.90 36.61L234.02 22.10L234.02 22.10"/>
<path d="M480.79 22.10L485.21 26.12L499.80 39.63L511.48 50.35L514.83 53.55L519.74 58.39L522.13 60.80L524.48 63.22L528.99 67.95M528.99 340.09L517.32 338.63L508.56 337.46L499.80 336.21L491.05 334.84L485.21 333.87L476.45 332.30L470.61 331.20L461.22 329.31L453.10 327.57L447.26 326.25L438.50 324.17L429.75 321.93L421.44 319.64L415.15 317.77L412.23 316.87L405.83 314.80L398.86 312.38L392.35 309.96L386.23 307.54L380.12 305.01L374.29 302.50L368.45 299.81L364.48 297.87L359.69 295.34L355.60 293.03L351.59 290.61L347.81 288.19L344.24 285.77L340.84 283.35L337.60 280.93L334.51 278.51L331.54 276.10L328.70 273.68L325.98 271.26L323.36 268.84L320.83 266.42L318.41 264.00L315.91 261.41L312.99 258.25L310.07 254.94L309.54 254.32L307.15 251.47L304.23 247.82L301.81 244.65L300.03 242.23L298.31 239.81L295.02 234.97L291.93 230.13L289.01 225.30L286.25 220.46L283.64 215.62L280.88 210.18L278.84 205.94L276.61 201.11L274.50 196.27L272.12 190.52L270.58 186.59L268.75 181.75L267.01 176.92L265.35 172.08L263.36 165.98L262.25 162.40L260.45 156.26L259.46 152.73L258.20 147.89L257.02 143.05L255.94 138.21L254.94 133.37L254.01 128.54L252.72 121.28L251.54 114.02L250.09 104.35L248.36 92.25L247.04 82.58L246.14 75.32L245.60 70.48L244.88 63.22L244.29 55.97L243.79 48.71L243.22 39.03L242.28 22.10L242.28 22.10"/>
<path d="M467.32 22.10L473.53 27.33L479.37 32.35L485.21 37.52L508.56 58.61L514.40 64.09L520.24 69.77L528.99 78.56M528.99 336.60L520.24 335.49L510.11 334.15L502.72 333.08L493.97 331.71L485.21 330.20L479.37 329.13L470.61 327.41L464.77 326.19L456.02 324.27L446.62 322.06L438.50 320.00L435.59 319.22L428.36 317.22L423.91 315.90L418.07 314.10L412.23 312.20L405.82 309.96L399.35 307.54L393.28 305.12L387.54 302.70L382.06 300.29L376.80 297.87L371.37 295.22L367.15 293.03L362.61 290.51L358.71 288.19L354.87 285.77L350.93 283.13L347.82 280.93L344.56 278.51L341.46 276.10L338.49 273.68L335.64 271.26L332.92 268.84L330.30 266.42L327.58 263.80L324.66 260.86L321.74 257.78L320.79 256.74L318.62 254.32L315.91 251.16L312.99 247.59L312.57 247.07L310.07 243.84L307.09 239.81L303.72 234.97L300.56 230.13L297.58 225.30L294.77 220.46L292.12 215.62L289.60 210.78L287.22 205.94L284.96 201.11L282.82 196.27L280.77 191.43L278.83 186.59L276.98 181.75L275.04 176.42L273.54 172.08L271.92 167.24L270.39 162.40L268.93 157.56L267.55 152.73L266.26 147.89L265.09 143.05L264.03 138.21L263.06 133.37L262.15 128.54L260.90 121.28L259.75 114.02L258.68 106.77L257.34 97.09L256.09 87.41L254.93 77.74L254.14 70.48L253.42 63.22L252.79 55.97L252.25 48.71L251.80 41.45L251.28 31.78L250.84 22.10L250.84 22.10"/>
<path d="M452.89 22.10L456.02 24.56L462.05 29.36L468.02 34.20L473.86 39.03L479.57 43.87L485.21 48.76L506.94 68.06L511.48 72.20L517.40 77.74L524.98 84.99L527.47 87.41L528.99 88.91M528.99 332.96L517.32 331.47L508.56 330.25L502.35 329.31L493.97 327.93L488.07 326.89L479.37 325.23L473.53 324.05L464.30 322.06L456.02 320.12L450.18 318.68L444.34 317.18L435.59 314.76L427.59 312.38L423.91 311.21L418.07 309.28L412.23 307.22L406.39 305.03L400.56 302.70L394.72 300.22L388.88 297.59L383.04 294.82L379.40 293.03L374.29 290.37L370.33 288.19L366.19 285.77L362.29 283.35L358.63 280.93L355.15 278.51L351.86 276.10L348.72 273.68L345.73 271.26L342.88 268.84L340.15 266.42L337.52 264.00L335.01 261.58L332.59 259.16L330.26 256.74L327.58 253.84L324.66 250.53L323.77 249.49L321.74 247.05L318.83 243.37L317.94 242.23L315.91 239.51L312.99 235.43L311.03 232.55L309.43 230.13L306.38 225.30L303.52 220.46L300.81 215.62L298.25 210.78L295.82 205.94L293.53 201.11L291.35 196.27L289.28 191.43L287.31 186.59L285.44 181.75L283.66 176.92L281.96 172.08L280.35 167.24L278.81 162.40L277.35 157.56L275.97 152.73L274.67 147.89L273.49 143.05L272.44 138.21L271.48 133.37L270.15 126.12L268.93 118.86L267.82 111.60L266.78 104.35L265.84 97.09L264.96 89.83L263.88 80.16L262.85 70.48L262.15 63.22L261.51 55.97L260.96 48.71L260.52 41.45L260.16 34.20L259.75 24.52L259.67 22.10L259.67 22.10"/>
<path d="M436.57 22.10L444.34 27.61L450.18 31.82L456.02 36.22L462.68 41.45L468.70 46.29L474.62 51.13L479.37 55.07L483.21 58.39L488.77 63.22L502.89 75.32L508.56 80.30L514.40 85.55L520.24 90.94L524.15 94.67L528.99 99.42M528.99 329.20L514.40 327.27L508.56 326.41L502.72 325.49L496.70 324.48L488.13 322.89L482.29 321.75L473.53 319.90L470.61 319.25L461.86 317.20L453.10 314.99L450.18 314.22L443.52 312.38L438.50 310.91L432.67 309.11L426.83 307.22L420.78 305.12L414.26 302.70L408.18 300.29L402.48 297.87L397.11 295.45L391.80 292.92L385.96 289.99L382.53 288.19L377.21 285.24L373.98 283.35L370.05 280.93L366.33 278.51L362.61 275.95L359.48 273.68L356.31 271.26L353.29 268.84L350.41 266.42L347.66 264.00L345.02 261.58L342.18 258.85L339.26 255.91L336.34 252.82L335.49 251.90L333.33 249.49L330.50 246.18L327.58 242.59L327.30 242.23L324.66 238.80L323.62 237.39L321.74 234.80L318.54 230.13L315.42 225.30L312.48 220.46L309.72 215.62L307.11 210.78L304.64 205.94L302.31 201.11L300.09 196.27L297.99 191.43L296.00 186.59L294.11 181.75L292.31 176.92L290.62 172.08L289.01 167.24L287.49 162.40L286.06 157.56L284.72 152.73L283.46 147.89L282.30 143.05L281.22 138.21L280.24 133.37L278.88 126.12L277.63 118.86L276.48 111.60L275.43 104.35L274.80 99.51L273.96 92.25L273.22 84.99L270.47 55.97L270.09 51.13L269.76 46.29L269.51 41.45L269.32 36.61L269.14 29.36L269.04 22.10L269.04 22.10"/>
<path d="M416.46 22.10L418.07 23.00L420.99 24.73L424.53 26.94L429.75 30.28L439.41 36.61L444.34 39.90L450.10 43.87L450.18 43.93L456.02 48.25L464.77 54.93L469.10 58.39L473.53 62.03L477.87 65.64L489.91 75.32L493.97 78.62L501.61 84.99L505.64 88.42L511.48 93.51L517.32 98.77L523.29 104.35L528.99 109.75M528.99 325.31L517.32 323.73L511.48 322.87L505.64 321.93L499.80 320.92L492.89 319.64L485.21 318.09L479.37 316.84L470.46 314.80L461.86 312.66L458.94 311.90L451.84 309.96L447.26 308.63L441.42 306.87L435.59 305.00L428.88 302.70L422.29 300.29L418.07 298.64L415.15 297.45L409.31 294.96L403.48 292.30L399.93 290.61L394.72 287.99L390.52 285.77L385.96 283.24L382.00 280.93L377.21 277.97L374.29 276.08L370.77 273.68L367.40 271.26L364.20 268.84L361.16 266.42L358.25 264.00L355.47 261.58L352.82 259.16L350.27 256.74L347.82 254.32L345.10 251.50L342.18 248.32L339.26 244.99L338.96 244.65L336.34 241.47L333.42 237.76L333.13 237.39L330.50 233.83L327.89 230.13L326.26 227.72L324.66 225.27L321.67 220.46L318.83 215.58L316.19 210.78L314.92 208.36L312.47 203.53L310.07 198.49L307.97 193.85L305.89 189.01L303.92 184.17L302.06 179.34L300.31 174.50L298.39 168.87L297.10 164.82L295.47 159.40L294.29 155.15L293.03 150.31L291.87 145.47L290.78 140.63L289.63 135.13L288.35 128.54L286.72 119.62L285.75 114.02L284.97 109.18L284.25 104.35L283.60 99.51L283.04 94.67L282.55 89.83L282.14 84.99L281.45 75.32L281.07 70.48L280.60 65.64L279.86 58.39L279.43 53.55L279.08 48.71L278.84 43.87L278.69 39.03L278.62 34.20L278.63 29.36L278.71 22.10L278.71 22.10"/>
<path d="M383.79 22.10L388.88 23.78L394.72 25.85L397.64 26.96L400.56 28.12L403.52 29.36L406.39 30.63L409.31 32.00L413.59 34.20L415.15 35.03L418.07 36.68L423.91 40.12L432.67 45.45L444.34 52.68L456.02 60.27L460.17 63.22L463.40 65.64L467.69 68.97L473.53 73.53L491.05 87.12L499.80 94.18L506.19 99.51L511.84 104.35L517.34 109.18L528.99 119.51M528.99 321.28L520.24 320.07L514.40 319.18L508.56 318.22L502.72 317.18L496.88 316.06L490.65 314.80L482.29 312.96L476.45 311.60L469.82 309.96L461.86 307.85L458.94 307.03L452.37 305.12L447.26 303.54L444.34 302.61L437.44 300.29L432.67 298.57L429.75 297.48L423.91 295.19L418.07 292.74L412.23 290.12L408.16 288.19L403.32 285.77L397.64 282.75L394.38 280.93L390.24 278.51L385.96 275.88L382.55 273.68L378.99 271.26L375.60 268.84L372.38 266.42L369.30 264.00L366.37 261.58L363.57 259.16L360.89 256.74L358.32 254.32L355.86 251.91L353.50 249.49L350.93 246.75L348.01 243.47L346.94 242.23L344.91 239.81L342.18 236.39L341.08 234.97L339.26 232.54L336.34 228.45L334.20 225.30L332.63 222.88L330.50 219.46L328.21 215.62L326.84 213.20L324.20 208.36L321.71 203.53L319.36 198.69L317.14 193.85L315.02 189.01L312.99 184.08L311.14 179.34L309.35 174.50L307.68 169.66L306.12 164.82L304.66 159.98L303.32 155.15L302.08 150.31L300.94 145.47L299.90 140.63L298.94 135.79L296.69 123.70L294.43 111.60L293.60 106.77L292.86 101.93L292.21 97.09L291.67 92.25L291.25 87.41L290.94 82.58L290.29 70.48L289.85 65.64L289.14 58.39L288.76 53.55L288.50 48.71L288.36 43.87L288.33 39.03L288.39 34.20L288.54 29.36L288.85 22.10L288.85 22.10"/>
<path d="M528.99 317.13L520.24 315.83L513.95 314.80L508.56 313.82L501.09 312.38L493.97 310.88L488.13 309.58L479.60 307.54L473.53 305.98L467.69 304.40L461.74 302.70L453.84 300.29L450.18 299.09L444.34 297.10L438.50 294.99L432.67 292.74L426.83 290.33L420.99 287.75L416.75 285.77L411.86 283.35L406.39 280.47L402.87 278.51L397.64 275.44L394.72 273.64L391.02 271.26L387.45 268.84L384.05 266.42L380.12 263.47L377.21 261.17L374.29 258.76L371.37 256.23L368.45 253.58L365.53 250.81L362.61 247.90L361.80 247.07L359.51 244.65L356.77 241.62L353.85 238.23L353.15 237.39L350.93 234.66L348.01 230.88L347.46 230.13L345.10 226.86L344.01 225.30L342.18 222.58L340.80 220.46L339.26 218.00L336.40 213.20L335.04 210.78L332.44 205.94L329.98 201.11L327.58 196.10L325.46 191.43L323.37 186.59L321.38 181.75L319.51 176.92L317.75 172.08L315.91 166.65L314.57 162.40L312.99 157.00L311.84 152.73L310.65 147.89L309.57 143.05L308.59 138.21L307.70 133.37L305.57 121.28L303.23 109.18L302.38 104.35L301.61 99.51L300.95 94.67L300.43 89.83L300.23 87.41L300.07 84.99L299.87 80.16L299.64 70.48L299.48 68.06L298.65 58.39L298.54 55.97L298.48 53.55L298.47 48.71L298.57 43.87L298.76 39.03L298.91 36.61L299.19 34.20L300.63 31.78L301.31 31.37L304.23 30.78L307.15 30.26L310.07 29.81L313.73 29.36L315.91 29.13L318.83 28.89L321.74 28.72L324.66 28.62L327.58 28.58L330.50 28.60L333.42 28.68L336.34 28.81L339.26 29.00L343.51 29.36L345.10 29.51L350.93 30.18L356.77 30.99L362.61 31.94L368.45 33.03L371.37 33.63L374.29 34.29L377.21 35.02L383.04 36.66L388.88 38.41L394.72 40.27L398.13 41.45L400.56 42.33L404.45 43.87L406.39 44.69L409.79 46.29L412.23 47.54L415.15 49.12L420.99 52.47L427.00 55.97L431.35 58.39L435.96 60.80L447.26 66.53L450.18 68.15L453.82 70.48L457.32 72.90L460.70 75.32L464.77 78.29L482.29 91.27L491.05 97.93L496.88 102.49L502.72 107.16L508.56 111.93L517.32 119.25L523.15 124.22L528.06 128.54L528.99 129.37L528.99 129.37"/>
<path d="M528.99 312.82L523.15 311.90L517.32 310.88L511.48 309.78L502.72 307.97L496.88 306.68L490.20 305.12L482.29 303.14L479.37 302.37L471.81 300.29L467.69 299.07L461.86 297.28L456.02 295.39L449.23 293.03L442.76 290.61L438.50 288.92L435.59 287.72L429.75 285.18L425.78 283.35L420.80 280.93L415.15 277.99L411.69 276.10L407.50 273.68L403.48 271.22L399.76 268.84L396.17 266.42L392.75 264.00L388.88 261.11L385.96 258.82L383.04 256.42L380.12 253.91L377.21 251.28L374.29 248.52L371.37 245.63L370.40 244.65L368.10 242.23L365.53 239.42L362.61 236.06L361.69 234.97L359.69 232.55L356.77 228.81L355.94 227.71L353.85 224.87L350.93 220.66L350.80 220.46L348.02 216.13L347.69 215.62L345.10 211.25L343.48 208.36L342.17 205.94L339.69 201.11L337.35 196.27L335.13 191.43L333.00 186.59L330.97 181.75L329.05 176.92L327.24 172.08L325.55 167.24L323.97 162.40L322.50 157.56L321.16 152.73L319.93 147.89L318.81 143.05L317.81 138.21L316.89 133.37L315.63 126.12L314.38 118.86L312.24 106.77L311.45 101.93L310.74 97.09L310.07 91.86L309.62 87.41L309.45 84.99L309.36 82.58L309.28 77.74L309.15 60.80L309.18 58.39L309.25 55.97L309.42 53.55L309.97 48.71L310.07 48.32L312.99 46.44L315.91 45.94L318.83 45.52L321.74 45.17L324.66 44.91L327.58 44.74L330.50 44.65L333.42 44.64L336.34 44.71L339.26 44.85L342.18 45.06L345.10 45.31L350.93 45.94L356.77 46.64L359.69 47.06L362.61 47.52L365.53 48.04L368.87 48.71L374.29 49.89L383.04 51.97L388.88 53.44L391.80 54.24L394.72 55.09L397.64 56.01L400.56 57.00L404.23 58.39L406.39 59.27L409.71 60.80L412.23 62.07L418.07 65.22L420.99 66.82L423.91 68.39L426.83 69.78L429.75 71.01L435.59 73.38L440.14 75.32L441.42 75.88L445.26 77.74L447.26 78.77L450.18 80.42L453.70 82.58L457.45 84.99L461.08 87.41L464.65 89.83L467.69 91.93L479.37 100.15L485.21 104.37L491.71 109.18L496.88 113.09L505.64 119.89L513.43 126.12L517.32 129.29L523.15 134.21L528.99 139.32L528.99 139.32"/>
<path d="M528.99 308.30L524.48 307.54L520.24 306.73L512.40 305.12L505.64 303.62L499.80 302.26L491.05 300.10L482.68 297.87L479.37 296.93L473.53 295.21L466.56 293.03L461.86 291.46L458.94 290.45L452.72 288.19L446.52 285.77L440.72 283.35L435.30 280.93L429.75 278.28L425.43 276.10L420.91 273.68L416.66 271.26L412.23 268.59L408.80 266.42L405.18 264.00L401.73 261.58L398.46 259.16L394.72 256.25L391.80 253.86L388.88 251.35L385.96 248.72L383.04 245.96L380.12 243.06L379.30 242.23L377.00 239.81L374.29 236.84L371.37 233.49L370.57 232.55L368.45 229.98L365.53 226.28L362.97 222.88L361.23 220.46L359.54 218.04L356.77 213.81L356.39 213.20L353.85 208.96L353.51 208.36L352.16 205.94L350.87 203.52L348.43 198.69L346.15 193.85L343.98 189.01L341.88 184.17L339.86 179.34L337.96 174.50L336.16 169.66L334.48 164.82L332.90 159.98L331.45 155.15L330.10 150.31L328.87 145.47L327.75 140.63L326.75 135.79L325.85 130.96L325.03 126.12L323.91 118.86L322.48 109.18L321.74 103.80L321.23 99.51L320.75 94.67L320.56 92.25L320.41 89.83L320.30 87.41L320.24 84.99L320.22 82.58L320.25 80.16L320.34 77.74L320.48 75.32L320.67 72.90L321.17 68.06L321.74 63.55L321.83 63.22L324.66 61.42L327.58 60.99L330.50 60.69L333.42 60.48L336.34 60.36L339.26 60.33L342.18 60.36L345.10 60.46L348.01 60.63L350.93 60.84L353.85 61.12L356.77 61.45L359.69 61.83L362.61 62.27L368.03 63.22L371.37 63.87L377.21 65.11L383.04 66.47L388.88 67.97L394.72 69.62L400.56 71.35L403.48 72.30L406.39 73.35L409.31 74.47L415.15 76.92L420.99 79.47L426.83 81.91L434.32 84.99L435.59 85.53L439.82 87.41L441.42 88.16L444.82 89.83L447.26 91.10L450.18 92.69L453.63 94.67L457.67 97.09L458.94 97.85L464.77 101.52L473.53 107.25L479.96 111.60L485.21 115.24L493.68 121.28L496.99 123.70L503.49 128.54L508.56 132.41L514.40 137.00L520.24 141.75L527.52 147.89L528.99 149.14L528.99 149.14"/>
<path d="M528.99 303.51L524.74 302.70L520.24 301.72L513.90 300.29L502.72 297.58L493.97 295.31L485.78 293.03L482.29 291.99L476.45 290.20L470.30 288.19L463.40 285.77L458.94 284.10L456.02 282.97L450.18 280.59L444.34 278.03L440.17 276.10L435.25 273.68L429.75 270.77L426.27 268.84L422.15 266.42L418.07 263.88L414.56 261.58L411.06 259.16L407.74 256.74L404.58 254.32L401.58 251.90L398.72 249.49L395.99 247.07L393.39 244.65L390.89 242.23L388.50 239.81L385.96 237.13L383.04 233.90L381.87 232.55L379.81 230.13L377.21 226.93L374.04 222.88L371.37 219.29L368.74 215.62L367.10 213.20L365.51 210.78L364.00 208.36L362.56 205.94L361.21 203.53L359.69 200.66L357.50 196.27L356.35 193.85L353.85 188.33L352.06 184.17L350.06 179.34L348.01 174.18L346.32 169.66L344.61 164.82L343.01 159.98L341.52 155.15L340.14 150.31L338.87 145.47L337.72 140.63L336.67 135.79L336.20 133.37L335.77 130.96L335.03 126.12L334.39 121.28L333.53 114.02L333.03 109.18L332.58 104.35L332.23 99.51L332.10 97.09L332.01 94.67L331.96 92.25L331.98 89.83L332.05 87.41L332.19 84.99L332.40 82.58L332.69 80.16L333.05 77.74L333.42 77.15L336.34 76.32L339.26 76.00L342.18 75.80L345.10 75.69L348.01 75.66L350.93 75.71L353.85 75.83L356.77 76.04L359.69 76.35L362.61 76.73L365.53 77.17L371.37 78.17L377.21 79.28L383.04 80.44L388.88 81.70L394.72 83.05L400.56 84.53L403.48 85.33L406.39 86.18L410.14 87.41L412.23 88.18L418.07 90.48L428.32 94.67L432.67 96.50L438.50 99.07L444.34 101.82L450.18 104.78L453.86 106.77L458.19 109.18L458.94 109.61L464.77 113.04L470.61 116.61L476.45 120.31L482.29 124.12L488.88 128.54L493.97 132.03L499.80 136.15L505.95 140.63L511.48 144.78L518.55 150.31L523.15 154.00L528.99 158.82L528.99 158.82"/>
<path d="M528.99 298.26L526.07 297.64L516.93 295.45L505.64 292.58L498.30 290.61L491.05 288.53L488.13 287.65L482.12 285.77L474.92 283.35L470.61 281.81L467.69 280.73L461.86 278.45L456.02 276.01L450.18 273.40L445.70 271.26L440.93 268.84L435.59 265.94L432.21 264.00L428.21 261.58L423.91 258.82L420.84 256.74L417.45 254.32L414.23 251.91L411.17 249.49L408.28 247.07L405.52 244.65L402.90 242.23L400.39 239.81L397.64 237.01L394.72 233.89L393.51 232.55L391.39 230.13L388.88 227.13L385.96 223.46L385.51 222.88L383.04 219.59L380.12 215.57L377.21 211.37L376.81 210.78L374.29 206.89L373.69 205.94L371.37 202.01L370.85 201.11L368.45 196.61L368.27 196.27L365.92 191.43L364.81 189.01L362.61 184.00L360.68 179.34L358.78 174.50L356.77 169.09L355.28 164.82L353.68 159.98L352.20 155.15L350.82 150.31L349.58 145.47L348.46 140.63L347.96 138.21L347.07 133.37L346.68 130.96L346.33 128.54L345.76 123.70L345.33 118.86L345.01 114.02L344.77 109.18L344.59 104.35L344.50 99.51L344.51 97.09L344.56 94.67L344.72 92.25L345.10 91.80L348.01 91.58L350.93 91.44L353.85 91.39L356.77 91.42L359.69 91.53L362.61 91.72L365.53 91.96L368.45 92.26L374.29 92.99L380.12 93.85L385.96 94.83L391.80 95.94L397.10 97.09L397.64 97.21L400.56 97.92L403.48 98.69L406.39 99.52L409.31 100.41L413.89 101.93L415.15 102.36L420.99 104.48L426.97 106.77L433.07 109.18L438.50 111.41L444.47 114.02L447.26 115.31L450.18 116.71L454.42 118.86L456.02 119.68L461.86 122.85L467.69 126.17L473.53 129.61L479.70 133.37L485.21 136.82L491.12 140.63L496.88 144.47L502.72 148.49L508.65 152.73L514.40 156.98L520.24 161.47L526.07 166.13L528.99 168.56L528.99 168.56"/>
<path d="M528.99 292.30L521.79 290.61L514.40 288.75L508.56 287.21L502.72 285.60L495.09 283.35L491.05 282.08L485.21 280.16L479.37 278.12L473.53 275.94L467.69 273.61L461.86 271.11L456.02 268.42L451.93 266.42L447.26 263.99L442.90 261.58L438.50 259.00L434.89 256.74L431.21 254.32L427.72 251.91L423.91 249.10L420.99 246.84L418.07 244.45L415.15 241.92L412.23 239.24L409.31 236.40L406.39 233.41L405.59 232.55L403.38 230.13L400.56 226.87L397.64 223.32L397.28 222.88L394.72 219.55L391.83 215.62L390.13 213.20L388.48 210.78L385.96 206.93L385.33 205.94L383.04 202.20L382.40 201.11L380.12 197.04L379.70 196.27L378.45 193.85L377.21 191.35L375.00 186.59L373.94 184.17L371.93 179.34L370.06 174.50L368.28 169.66L366.62 164.82L365.07 159.98L363.64 155.15L362.33 150.31L361.16 145.47L360.13 140.63L359.67 138.21L359.26 135.79L358.90 133.37L358.58 130.96L358.31 128.54L358.10 126.12L357.94 123.70L357.84 121.28L357.80 118.86L357.80 116.44L357.86 114.02L358.08 109.18L359.69 107.05L362.61 106.99L365.53 107.04L368.45 107.16L371.37 107.33L374.29 107.56L377.21 107.84L380.12 108.16L383.04 108.54L387.35 109.18L388.88 109.43L391.80 109.95L394.72 110.51L399.84 111.60L400.56 111.76L403.48 112.45L406.39 113.18L409.52 114.02L412.23 114.83L418.07 116.73L426.83 119.69L435.59 122.57L438.75 123.70L441.42 124.71L444.84 126.12L447.26 127.17L450.25 128.54L455.22 130.96L456.02 131.35L461.86 134.37L467.69 137.51L476.45 142.39L482.29 145.78L488.13 149.28L493.97 152.92L499.80 156.70L505.64 160.65L511.54 164.82L514.83 167.24L518.03 169.66L521.14 172.08L524.15 174.50L527.08 176.92L528.99 178.51L528.99 178.51"/>
<path d="M528.99 285.88L520.24 283.73L514.40 282.23L508.56 280.63L501.40 278.51L496.88 277.08L493.89 276.10L486.98 273.68L482.29 271.92L479.37 270.79L473.53 268.40L469.00 266.42L464.77 264.47L461.86 263.05L458.91 261.58L454.36 259.16L450.06 256.74L446.04 254.32L442.24 251.91L438.50 249.39L435.26 247.07L432.05 244.65L429.01 242.23L426.12 239.81L423.39 237.39L420.80 234.97L418.07 232.27L415.15 229.21L413.78 227.72L411.64 225.30L409.31 222.52L406.39 218.85L405.77 218.04L403.48 214.95L402.22 213.20L400.54 210.78L397.64 206.36L397.37 205.94L394.72 201.61L394.42 201.11L391.80 196.48L391.68 196.27L390.41 193.85L388.88 190.82L388.01 189.01L385.96 184.47L385.83 184.17L383.86 179.34L382.94 176.92L381.21 172.08L379.57 167.24L378.06 162.40L377.21 159.48L376.04 155.15L374.89 150.31L374.29 147.52L373.43 143.05L372.65 138.21L372.31 135.79L372.01 133.37L371.76 130.96L371.56 128.54L371.42 126.12L371.37 123.65L374.29 122.31L377.21 122.43L380.12 122.61L383.04 122.86L385.96 123.18L389.68 123.70L391.80 124.03L394.72 124.54L400.56 125.71L406.39 126.88L409.31 127.53L413.19 128.54L415.15 129.07L418.07 129.93L423.91 131.72L426.83 132.46L432.67 133.67L435.59 134.48L439.40 135.79L441.42 136.55L445.44 138.21L447.26 139.00L453.10 141.70L460.92 145.47L464.77 147.36L473.53 151.80L479.82 155.15L485.21 158.13L491.05 161.50L496.88 165.04L500.36 167.24L504.06 169.66L507.64 172.08L508.56 172.70L511.48 174.76L514.45 176.92L517.67 179.34L520.79 181.75L526.07 185.96L528.99 188.34L528.99 188.34"/>
<path d="M528.99 279.11L517.32 276.09L511.48 274.44L508.56 273.57L502.72 271.70L499.80 270.71L493.97 268.63L488.13 266.40L482.27 264.00L476.45 261.45L470.61 258.68L466.77 256.74L461.86 254.10L458.03 251.91L454.06 249.49L450.18 246.96L446.83 244.65L443.53 242.23L440.41 239.81L437.46 237.39L434.67 234.97L432.02 232.55L429.51 230.13L426.83 227.40L423.91 224.23L422.71 222.88L420.64 220.46L418.07 217.26L416.80 215.62L415.00 213.20L412.23 209.25L411.63 208.36L409.31 204.79L408.53 203.52L406.39 199.95L405.67 198.69L403.48 194.67L403.04 193.85L401.82 191.43L400.56 188.84L399.52 186.59L397.64 182.21L397.45 181.75L396.50 179.34L395.61 176.92L394.72 174.36L393.99 172.08L392.57 167.24L391.80 164.35L390.74 159.98L389.69 155.15L389.22 152.73L388.81 150.31L388.46 147.89L388.16 145.47L387.91 143.05L387.70 140.63L387.71 138.21L388.88 137.30L391.80 137.59L397.64 138.30L403.48 139.11L409.31 140.03L415.15 141.06L418.07 141.63L420.99 142.27L426.83 143.73L429.75 144.50L433.06 145.47L435.59 146.29L438.50 147.34L441.42 148.49L445.66 150.31L456.68 155.15L462.22 157.56L467.69 160.02L473.53 162.76L479.37 165.63L485.21 168.66L491.05 171.85L496.88 175.24L499.80 177.01L503.48 179.34L507.17 181.75L508.56 182.68L511.48 184.69L514.40 186.77L517.45 189.01L523.15 193.34L528.99 197.92L528.99 197.92"/>
<path d="M528.99 272.08L520.24 269.64L517.32 268.78L511.48 266.93L508.56 265.93L502.72 263.83L496.88 261.57L491.05 259.15L485.21 256.57L479.37 253.79L475.63 251.91L470.61 249.20L466.91 247.07L462.97 244.65L459.29 242.23L456.02 239.94L455.84 239.81L452.60 237.39L449.56 234.97L446.70 232.55L444.00 230.13L441.42 227.68L438.50 224.73L435.59 221.58L434.59 220.46L432.51 218.04L429.75 214.59L428.67 213.20L426.83 210.70L425.19 208.36L423.56 205.94L422.03 203.52L420.56 201.11L419.17 198.69L417.85 196.27L416.60 193.85L415.15 190.86L414.29 189.01L413.23 186.59L412.22 184.17L411.28 181.75L410.38 179.34L409.31 176.21L408.77 174.50L408.08 172.08L407.48 169.66L406.96 167.24L406.39 164.21L406.10 162.40L405.76 159.98L405.46 157.56L405.20 155.15L405.92 152.73L406.39 152.49L409.31 152.79L412.23 153.14L415.15 153.53L418.07 153.99L420.99 154.51L424.09 155.15L426.83 155.81L429.75 156.61L432.85 157.56L435.59 158.54L439.34 159.98L453.10 165.39L461.86 168.76L467.69 171.12L473.53 173.64L479.37 176.32L485.55 179.34L490.22 181.75L491.05 182.18L494.68 184.17L498.92 186.59L499.80 187.10L502.96 189.01L506.80 191.43L510.50 193.85L511.48 194.50L517.32 198.53L524.15 203.53L528.99 207.21L528.99 207.21"/>
<path d="M528.99 264.71L526.07 263.84L523.15 262.90L519.24 261.58L514.40 259.80L511.48 258.67L505.64 256.29L499.80 253.76L493.97 251.09L490.60 249.49L485.21 246.77L481.23 244.65L476.97 242.23L473.53 240.15L472.99 239.81L469.29 237.39L465.84 234.97L462.63 232.55L459.64 230.13L456.85 227.72L454.24 225.30L451.80 222.88L449.51 220.46L447.26 217.93L444.34 214.40L443.39 213.20L441.42 210.62L439.79 208.36L438.11 205.94L435.59 202.03L435.02 201.11L433.60 198.69L432.28 196.27L431.06 193.85L429.75 191.00L428.90 189.01L427.96 186.59L426.83 183.29L426.34 181.75L425.66 179.34L425.05 176.92L424.52 174.50L423.65 169.66L423.91 169.40L426.83 169.81L429.75 170.54L432.67 171.34L438.50 173.05L444.34 174.79L458.94 179.04L461.86 180.00L464.77 181.04L470.61 183.31L473.53 184.51L479.37 187.07L485.21 189.77L491.05 192.60L493.97 194.08L498.04 196.27L499.80 197.24L505.64 200.62L514.40 205.98L518.06 208.36L520.24 209.81L523.15 211.86L526.07 214.03L528.99 216.27L528.99 216.27"/>
<path d="M528.99 256.72L523.15 254.39L522.99 254.32L517.32 251.86L511.48 249.16L505.64 246.33L499.80 243.39L496.88 241.88L493.01 239.81L488.13 237.07L484.60 234.97L480.78 232.55L477.24 230.13L476.45 229.57L473.53 227.39L470.61 225.04L467.69 222.48L464.77 219.69L463.17 218.04L460.98 215.62L458.94 213.17L457.11 210.78L455.37 208.36L453.10 204.90L452.23 203.53L449.30 198.69L447.26 195.07L446.61 193.85L445.41 191.43L444.34 189.00L447.26 188.29L450.18 188.66L453.10 189.10L456.02 189.70L458.94 190.49L462.01 191.43L464.77 192.37L468.75 193.85L473.53 195.83L488.13 202.11L491.33 203.52L493.97 204.77L499.80 207.72L511.48 213.81L514.74 215.62L517.32 217.12L520.24 218.99L523.15 221.13L528.99 225.55L528.99 225.55"/>
<path d="M528.99 246.64L524.71 244.65L519.84 242.23L514.40 239.33L510.93 237.39L499.80 230.90L496.88 229.13L493.97 227.29L490.93 225.30L487.51 222.88L484.34 220.46L481.44 218.04L478.77 215.62L476.32 213.20L474.09 210.78L473.53 209.13L473.11 208.36L473.53 208.20L485.21 212.66L491.05 214.94L502.72 219.80L505.64 221.09L509.40 222.88L511.48 223.92L514.40 225.52L517.99 227.72L520.24 229.16L528.99 235.13L528.99 235.13"/>
</g>
</g>
<g class="cl" font-size="7.8" text-anchor="middle" opacity="0.999" clip-path="url(#ax)">
<text style="fill:#000;fill-opacity:0.82" transform="translate(165.00 36.00) rotate(81.6)" y="2.85">304</text><text style="fill:#000;fill-opacity:0.82" transform="translate(172.50 101.30) rotate(80.9)" y="2.85">304</text><text style="fill:#000;fill-opacity:0.82" transform="translate(185.70 137.90) rotate(76.8)" y="2.85">312</text><text style="fill:#000;fill-opacity:0.82" transform="translate(380.80 346.40) rotate(12.9)" y="2.85">312</text><text style="fill:#000;fill-opacity:0.82" transform="translate(460.20 360.30) rotate(8.4)" y="2.85">312</text><text style="fill:#000;fill-opacity:0.82" transform="translate(302.50 312.00) rotate(31.4)" y="2.85">320</text><text style="fill:#000;fill-opacity:0.82" transform="translate(477.40 360.10) rotate(8.0)" y="2.85">320</text><text style="fill:#000;fill-opacity:0.82" transform="translate(185.80 58.20) rotate(84.4)" y="2.85">328</text><text style="fill:#000;fill-opacity:0.82" transform="translate(206.40 144.80) rotate(75.1)" y="2.85">336</text><text style="fill:#000;fill-opacity:0.82" transform="translate(327.40 311.40) rotate(28.5)" y="2.85">344</text><text style="fill:#000;fill-opacity:0.82" transform="translate(206.50 58.20) rotate(85.1)" y="2.85">352</text><text style="fill:#000;fill-opacity:0.82" transform="translate(225.20 138.60) rotate(75.8)" y="2.85">360</text><text style="fill:#000;fill-opacity:0.82" transform="translate(355.00 310.20) rotate(24.8)" y="2.85">368</text><text style="fill:#000;fill-opacity:0.82" transform="translate(233.80 101.30) rotate(81.4)" y="2.85">376</text><text style="fill:#000;fill-opacity:0.82" transform="translate(519.50 35.90) rotate(45.0)" y="2.85">376</text><text style="fill:#000;fill-opacity:0.82" transform="translate(249.70 145.50) rotate(76.2)" y="2.85">384</text><text style="fill:#000;fill-opacity:0.82" transform="translate(508.20 36.40) rotate(43.1)" y="2.85">384</text><text style="fill:#000;fill-opacity:0.82" transform="translate(381.50 305.50) rotate(22.9)" y="2.85">392</text><text style="fill:#000;fill-opacity:0.82" transform="translate(504.50 43.90) rotate(42.7)" y="2.85">392</text><text style="fill:#000;fill-opacity:0.82" transform="translate(262.50 130.50) rotate(79.5)" y="2.85">400</text><text style="fill:#000;fill-opacity:0.82" transform="translate(495.10 46.70) rotate(42.2)" y="2.85">400</text><text style="fill:#000;fill-opacity:0.82" transform="translate(273.80 145.00) rotate(76.4)" y="2.85">408</text><text style="fill:#000;fill-opacity:0.82" transform="translate(495.00 57.50) rotate(41.9)" y="2.85">408</text><text style="fill:#000;fill-opacity:0.82" transform="translate(415.00 303.00) rotate(21.0)" y="2.85">416</text><text style="fill:#000;fill-opacity:0.82" transform="translate(481.00 56.00) rotate(40.3)" y="2.85">416</text><text style="fill:#000;fill-opacity:0.82" transform="translate(291.80 145.00) rotate(77.0)" y="2.85">424</text><text style="fill:#000;fill-opacity:0.82" transform="translate(476.50 65.00) rotate(39.3)" y="2.85">424</text><text style="fill:#000;fill-opacity:0.82" transform="translate(300.80 145.00) rotate(77.3)" y="2.85">432</text><text style="fill:#000;fill-opacity:0.82" transform="translate(462.50 65.00) rotate(37.0)" y="2.85">432</text><text style="fill:#000;fill-opacity:0.82" transform="translate(306.30 123.50) rotate(79.8)" y="2.85">440</text><text style="fill:#000;fill-opacity:0.82" transform="translate(448.80 79.50) rotate(29.0)" y="2.85">448</text><text style="fill:#000;fill-opacity:0.82" transform="translate(344.30 189.50) rotate(66.1)" y="2.85">456</text><text style="fill:#000;fill-opacity:0.82" transform="translate(363.00 207.00) rotate(59.4)" y="2.85">464</text><text style="fill:#000;fill-opacity:0.82" transform="translate(381.30 217.00) rotate(54.2)" y="2.85">472</text><text style="fill:#000;fill-opacity:0.82" transform="translate(416.30 243.00) rotate(41.0)" y="2.85">480</text><text style="fill:#000;fill-opacity:0.82" transform="translate(433.20 133.00) rotate(14.6)" y="2.85">488</text><text style="fill:#000;fill-opacity:0.82" transform="translate(486.40 265.70) rotate(22.1)" y="2.85">496</text><text style="fill:#000;fill-opacity:0.82" transform="translate(433.20 157.30) rotate(18.4)" y="2.85">504</text><text style="fill:#000;fill-opacity:0.82" transform="translate(477.00 186.10) rotate(23.8)" y="2.85">512</text><text style="fill:#000;fill-opacity:0.82" transform="translate(451.30 201.30) rotate(58.8)" y="2.85">520</text><text style="fill:#000;fill-opacity:0.82" transform="translate(477.70 213.30) rotate(55.0)" y="2.85">528</text>
</g>
<rect x="556.8" y="22.9" width="16.90" height="353.60" fill="url(#cb)"/>
<path d="M575.20 362.50h2.7M575.20 347.50h2.7M575.20 332.50h2.7M575.20 316.50h2.7M575.20 286.50h2.7M575.20 270.50h2.7M575.20 255.50h2.7M575.20 240.50h2.7M575.20 209.50h2.7M575.20 194.50h2.7M575.20 179.50h2.7M575.20 163.50h2.7M575.20 133.50h2.7M575.20 117.50h2.7M575.20 102.50h2.7M575.20 87.50h2.7M575.20 56.50h2.7M575.20 41.50h2.7M575.20 26.50h2.7" stroke="#262626" stroke-width="1.0" fill="none"/>
<path d="M575.00 301.50h4.8M575.00 225.50h4.8M575.00 148.50h4.8M575.00 72.50h4.8" stroke="#262626" stroke-width="1.35" fill="none"/>
<g opacity="0.999">
<g font-size="10">
<text x="583.5" y="304.99">350</text><text x="583.5" y="228.55">400</text><text x="583.5" y="152.11">450</text><text x="583.5" y="75.68">500</text>
</g>
<g font-size="10" text-anchor="middle">
<text x="128.69" y="394.6">6</text><text x="185.97" y="394.6">8</text><text x="243.25" y="394.6">10</text><text x="300.53" y="394.6">12</text><text x="357.81" y="394.6">14</text><text x="415.09" y="394.6">16</text><text x="472.37" y="394.6">18</text><text x="529.65" y="394.6">20</text>
</g>
<g font-size="10" text-anchor="end">
<text x="90.8" y="381.35">1.0</text><text x="90.8" y="292.45">1.5</text><text x="90.8" y="203.55">2.0</text><text x="90.8" y="114.65">2.5</text><text x="90.8" y="25.75">3.0</text>
</g>
<text x="314.7" y="408.6" font-size="11.4" text-anchor="middle">Wingspan [m]</text>
<text x="72.2" y="203.1" font-size="11.3" text-anchor="end">Chord [m]</text>
<text x="320.2" y="18.1" font-size="13.8" text-anchor="middle">Optimized Range [km]</text>
</g>
</svg>
</body></html>
